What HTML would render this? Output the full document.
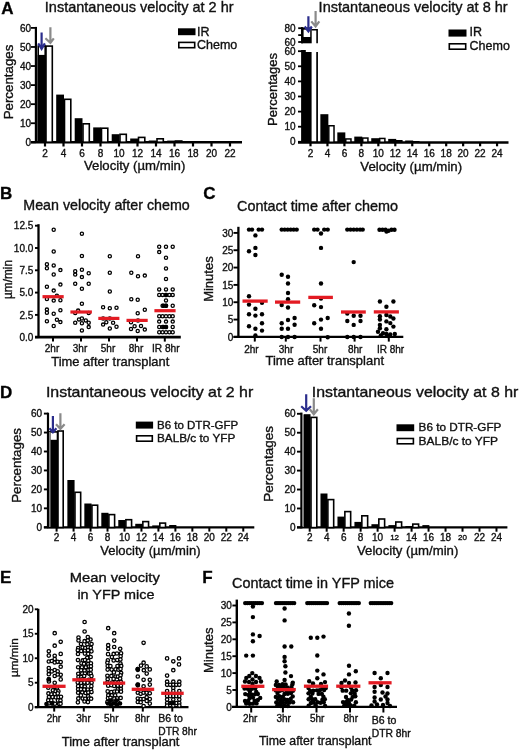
<!DOCTYPE html>
<html><head><meta charset="utf-8"><style>
html,body{margin:0;padding:0;background:#fff;}
svg{display:block;font-family:"Liberation Sans",sans-serif;will-change:transform;}
text{stroke:#111;stroke-width:0.35px;}
</style></head><body>
<svg width="520" height="750" viewBox="0 0 520 750">
<rect width="520" height="750" fill="#fff"/>
<text x="1.3" y="13.7" font-size="17" font-weight="bold" fill="#000">A</text>
<text x="0.1" y="198.8" font-size="17" font-weight="bold" fill="#000">B</text>
<text x="203.2" y="199.3" font-size="17" font-weight="bold" fill="#000">C</text>
<text x="0.1" y="397.8" font-size="17" font-weight="bold" fill="#000">D</text>
<text x="0.1" y="583.1" font-size="17" font-weight="bold" fill="#000">E</text>
<text x="202.3" y="582.9" font-size="17" font-weight="bold" fill="#000">F</text>
<line x1="35.90" y1="26.90" x2="35.90" y2="143.00" stroke="#000" stroke-width="2.2" stroke-linecap="butt"/>
<line x1="31.00" y1="27.90" x2="35.90" y2="27.90" stroke="#000" stroke-width="1.8" stroke-linecap="butt"/>
<text x="31.0" y="31.5" font-size="10" text-anchor="end" fill="#111">60</text>
<line x1="31.00" y1="46.97" x2="35.90" y2="46.97" stroke="#000" stroke-width="1.8" stroke-linecap="butt"/>
<text x="31.0" y="50.56666666666667" font-size="10" text-anchor="end" fill="#111">50</text>
<line x1="31.00" y1="66.03" x2="35.90" y2="66.03" stroke="#000" stroke-width="1.8" stroke-linecap="butt"/>
<text x="31.0" y="69.63333333333333" font-size="10" text-anchor="end" fill="#111">40</text>
<line x1="31.00" y1="85.10" x2="35.90" y2="85.10" stroke="#000" stroke-width="1.8" stroke-linecap="butt"/>
<text x="31.0" y="88.7" font-size="10" text-anchor="end" fill="#111">30</text>
<line x1="31.00" y1="104.17" x2="35.90" y2="104.17" stroke="#000" stroke-width="1.8" stroke-linecap="butt"/>
<text x="31.0" y="107.76666666666665" font-size="10" text-anchor="end" fill="#111">20</text>
<line x1="31.00" y1="123.23" x2="35.90" y2="123.23" stroke="#000" stroke-width="1.8" stroke-linecap="butt"/>
<text x="31.0" y="126.83333333333331" font-size="10" text-anchor="end" fill="#111">10</text>
<line x1="31.00" y1="142.30" x2="35.90" y2="142.30" stroke="#000" stroke-width="1.8" stroke-linecap="butt"/>
<text x="31.0" y="145.9" font-size="10" text-anchor="end" fill="#111">0</text>
<line x1="31.00" y1="142.30" x2="242.00" y2="142.30" stroke="#000" stroke-width="2.6" stroke-linecap="butt"/>
<line x1="45.00" y1="142.00" x2="45.00" y2="146.50" stroke="#000" stroke-width="2.2" stroke-linecap="butt"/>
<text x="45.0" y="157.4" font-size="10" text-anchor="middle" fill="#111">2</text>
<line x1="63.50" y1="142.00" x2="63.50" y2="146.50" stroke="#000" stroke-width="2.2" stroke-linecap="butt"/>
<text x="63.5" y="157.4" font-size="10" text-anchor="middle" fill="#111">4</text>
<line x1="82.00" y1="142.00" x2="82.00" y2="146.50" stroke="#000" stroke-width="2.2" stroke-linecap="butt"/>
<text x="82.0" y="157.4" font-size="10" text-anchor="middle" fill="#111">6</text>
<line x1="100.50" y1="142.00" x2="100.50" y2="146.50" stroke="#000" stroke-width="2.2" stroke-linecap="butt"/>
<text x="100.5" y="157.4" font-size="10" text-anchor="middle" fill="#111">8</text>
<line x1="119.00" y1="142.00" x2="119.00" y2="146.50" stroke="#000" stroke-width="2.2" stroke-linecap="butt"/>
<text x="119.0" y="157.4" font-size="10" text-anchor="middle" fill="#111">10</text>
<line x1="137.50" y1="142.00" x2="137.50" y2="146.50" stroke="#000" stroke-width="2.2" stroke-linecap="butt"/>
<text x="137.5" y="157.4" font-size="10" text-anchor="middle" fill="#111">12</text>
<line x1="156.00" y1="142.00" x2="156.00" y2="146.50" stroke="#000" stroke-width="2.2" stroke-linecap="butt"/>
<text x="156.0" y="157.4" font-size="10" text-anchor="middle" fill="#111">14</text>
<line x1="174.50" y1="142.00" x2="174.50" y2="146.50" stroke="#000" stroke-width="2.2" stroke-linecap="butt"/>
<text x="174.5" y="157.4" font-size="10" text-anchor="middle" fill="#111">16</text>
<line x1="193.00" y1="142.00" x2="193.00" y2="146.50" stroke="#000" stroke-width="2.2" stroke-linecap="butt"/>
<text x="193.0" y="157.4" font-size="10" text-anchor="middle" fill="#111">18</text>
<line x1="211.50" y1="142.00" x2="211.50" y2="146.50" stroke="#000" stroke-width="2.2" stroke-linecap="butt"/>
<text x="211.5" y="157.4" font-size="10" text-anchor="middle" fill="#111">20</text>
<line x1="230.00" y1="142.00" x2="230.00" y2="146.50" stroke="#000" stroke-width="2.2" stroke-linecap="butt"/>
<text x="230.0" y="157.4" font-size="10" text-anchor="middle" fill="#111">22</text>
<rect x="38.20" y="46.10" width="7.00" height="96.10" fill="#fff" stroke="#000" stroke-width="1.6"/>
<rect x="37.70" y="54.90" width="7.80" height="87.10" fill="#000"/>
<rect x="46.00" y="46.10" width="6.30" height="96.10" fill="#fff" stroke="#000" stroke-width="1.6"/>
<rect x="56.20" y="94.60" width="7.80" height="47.40" fill="#000"/>
<rect x="64.50" y="99.30" width="6.30" height="42.90" fill="#fff" stroke="#000" stroke-width="1.6"/>
<rect x="74.70" y="118.20" width="7.80" height="23.80" fill="#000"/>
<rect x="83.00" y="123.80" width="6.30" height="18.40" fill="#fff" stroke="#000" stroke-width="1.6"/>
<rect x="93.20" y="127.40" width="7.80" height="14.60" fill="#000"/>
<rect x="101.50" y="128.20" width="6.30" height="14.00" fill="#fff" stroke="#000" stroke-width="1.6"/>
<rect x="111.70" y="134.20" width="7.80" height="7.80" fill="#000"/>
<rect x="120.00" y="134.30" width="6.30" height="7.90" fill="#fff" stroke="#000" stroke-width="1.6"/>
<rect x="130.20" y="138.50" width="7.80" height="3.50" fill="#000"/>
<rect x="138.50" y="137.40" width="6.30" height="4.80" fill="#fff" stroke="#000" stroke-width="1.6"/>
<rect x="148.70" y="140.50" width="7.80" height="1.50" fill="#000"/>
<rect x="157.00" y="138.80" width="6.30" height="3.40" fill="#fff" stroke="#000" stroke-width="1.6"/>
<rect x="167.20" y="140.60" width="7.80" height="1.40" fill="#000"/>
<rect x="175.50" y="141.00" width="6.30" height="1.20" fill="#fff" stroke="#000" stroke-width="1.6"/>
<path d="M41.6 32.5 L41.6 48.3 M38.2 43.4 L41.6 48.9 L44.9 43.4" fill="none" stroke="#2b2d8c" stroke-width="2.2" stroke-linejoin="miter"/>
<path d="M50.4 27.2 L50.4 42.3 M45.4 38.3 L50.4 42.9 L53.8 38.3" fill="none" stroke="#8a8a8a" stroke-width="2.2" stroke-linejoin="miter"/>
<text x="44.8" y="11.6" font-size="14.4" textLength="188.8" lengthAdjust="spacingAndGlyphs" fill="#111">Instantaneous velocity at 2 hr</text>
<rect x="178.00" y="28.30" width="17.50" height="6.90" fill="#000"/>
<rect x="178.80" y="42.40" width="15.90" height="5.30" fill="#fff" stroke="#000" stroke-width="1.6"/>
<text x="197.0" y="35.6" font-size="12.5" fill="#111">IR</text>
<text x="197.0" y="49.0" font-size="12.5" fill="#111">Chemo</text>
<text transform="translate(13.1 82.0) rotate(-90)" x="0" y="0" font-size="12.3" text-anchor="middle" textLength="74.7" lengthAdjust="spacingAndGlyphs" fill="#111">Percentages</text>
<text x="84.0" y="170" font-size="13" textLength="101.3" lengthAdjust="spacingAndGlyphs" fill="#111">Velocity (µm/min)</text>
<line x1="302.10" y1="27.20" x2="302.10" y2="43.30" stroke="#000" stroke-width="2.0" stroke-linecap="butt"/>
<line x1="298.20" y1="28.20" x2="302.10" y2="28.20" stroke="#000" stroke-width="1.8" stroke-linecap="butt"/>
<text x="295.6" y="31.8" font-size="10" text-anchor="end" fill="#111">80</text>
<line x1="298.20" y1="35.10" x2="302.10" y2="35.10" stroke="#000" stroke-width="1.8" stroke-linecap="butt"/>
<line x1="298.20" y1="42.00" x2="302.10" y2="42.00" stroke="#000" stroke-width="1.8" stroke-linecap="butt"/>
<text x="295.6" y="45.6" font-size="10" text-anchor="end" fill="#111">60</text>
<rect x="301.20" y="27.40" width="10.50" height="15.90" fill="#000"/>
<rect x="303.60" y="29.70" width="6.60" height="7.30" fill="#fff"/>
<path d="M311.7 29.7 L317.1 29.7 L317.1 43.3" fill="none" stroke="#000" stroke-width="1.6"/>
<line x1="302.10" y1="50.00" x2="302.10" y2="142.00" stroke="#000" stroke-width="2.0" stroke-linecap="butt"/>
<line x1="298.00" y1="51.20" x2="302.10" y2="51.20" stroke="#000" stroke-width="1.8" stroke-linecap="butt"/>
<text x="295.6" y="54.800000000000004" font-size="10" text-anchor="end" fill="#111">60</text>
<line x1="298.00" y1="66.30" x2="302.10" y2="66.30" stroke="#000" stroke-width="1.8" stroke-linecap="butt"/>
<text x="295.6" y="69.9" font-size="10" text-anchor="end" fill="#111">50</text>
<line x1="298.00" y1="81.40" x2="302.10" y2="81.40" stroke="#000" stroke-width="1.8" stroke-linecap="butt"/>
<text x="295.6" y="85.0" font-size="10" text-anchor="end" fill="#111">40</text>
<line x1="298.00" y1="96.50" x2="302.10" y2="96.50" stroke="#000" stroke-width="1.8" stroke-linecap="butt"/>
<text x="295.6" y="100.1" font-size="10" text-anchor="end" fill="#111">30</text>
<line x1="298.00" y1="111.60" x2="302.10" y2="111.60" stroke="#000" stroke-width="1.8" stroke-linecap="butt"/>
<text x="295.6" y="115.2" font-size="10" text-anchor="end" fill="#111">20</text>
<line x1="298.00" y1="126.70" x2="302.10" y2="126.70" stroke="#000" stroke-width="1.8" stroke-linecap="butt"/>
<text x="295.6" y="130.3" font-size="10" text-anchor="end" fill="#111">10</text>
<line x1="298.00" y1="141.80" x2="302.10" y2="141.80" stroke="#000" stroke-width="1.8" stroke-linecap="butt"/>
<text x="295.6" y="145.4" font-size="10" text-anchor="end" fill="#111">0</text>
<path d="M302.1 50 L305.8 50 L305.8 51.9 L311.6 51.9 L311.6 142 L302.1 142 Z" fill="#000"/>
<line x1="317.10" y1="51.90" x2="317.10" y2="142.00" stroke="#000" stroke-width="1.7" stroke-linecap="butt"/>
<line x1="298.00" y1="142.40" x2="508.50" y2="142.40" stroke="#000" stroke-width="2.5" stroke-linecap="butt"/>
<line x1="310.50" y1="142.00" x2="310.50" y2="146.30" stroke="#000" stroke-width="2.2" stroke-linecap="butt"/>
<text x="310.5" y="156.7" font-size="10" text-anchor="middle" fill="#111">2</text>
<line x1="327.46" y1="142.00" x2="327.46" y2="146.30" stroke="#000" stroke-width="2.2" stroke-linecap="butt"/>
<text x="327.46" y="156.7" font-size="10" text-anchor="middle" fill="#111">4</text>
<line x1="344.42" y1="142.00" x2="344.42" y2="146.30" stroke="#000" stroke-width="2.2" stroke-linecap="butt"/>
<text x="344.42" y="156.7" font-size="10" text-anchor="middle" fill="#111">6</text>
<line x1="361.38" y1="142.00" x2="361.38" y2="146.30" stroke="#000" stroke-width="2.2" stroke-linecap="butt"/>
<text x="361.38" y="156.7" font-size="10" text-anchor="middle" fill="#111">8</text>
<line x1="378.34" y1="142.00" x2="378.34" y2="146.30" stroke="#000" stroke-width="2.2" stroke-linecap="butt"/>
<text x="378.34000000000003" y="156.7" font-size="10" text-anchor="middle" fill="#111">10</text>
<line x1="395.30" y1="142.00" x2="395.30" y2="146.30" stroke="#000" stroke-width="2.2" stroke-linecap="butt"/>
<text x="395.3" y="156.7" font-size="10" text-anchor="middle" fill="#111">12</text>
<line x1="412.26" y1="142.00" x2="412.26" y2="146.30" stroke="#000" stroke-width="2.2" stroke-linecap="butt"/>
<text x="412.26" y="156.7" font-size="10" text-anchor="middle" fill="#111">14</text>
<line x1="429.22" y1="142.00" x2="429.22" y2="146.30" stroke="#000" stroke-width="2.2" stroke-linecap="butt"/>
<text x="429.22" y="156.7" font-size="10" text-anchor="middle" fill="#111">16</text>
<line x1="446.18" y1="142.00" x2="446.18" y2="146.30" stroke="#000" stroke-width="2.2" stroke-linecap="butt"/>
<text x="446.18" y="156.7" font-size="10" text-anchor="middle" fill="#111">18</text>
<line x1="463.14" y1="142.00" x2="463.14" y2="146.30" stroke="#000" stroke-width="2.2" stroke-linecap="butt"/>
<text x="463.14" y="156.7" font-size="10" text-anchor="middle" fill="#111">20</text>
<line x1="480.10" y1="142.00" x2="480.10" y2="146.30" stroke="#000" stroke-width="2.2" stroke-linecap="butt"/>
<text x="480.1" y="156.7" font-size="10" text-anchor="middle" fill="#111">22</text>
<line x1="497.06" y1="142.00" x2="497.06" y2="146.30" stroke="#000" stroke-width="2.2" stroke-linecap="butt"/>
<text x="497.06" y="156.7" font-size="10" text-anchor="middle" fill="#111">24</text>
<rect x="320.36" y="114.20" width="8.00" height="27.80" fill="#000"/>
<rect x="328.81" y="125.75" width="5.20" height="16.50" fill="#fff" stroke="#000" stroke-width="1.5"/>
<rect x="337.32" y="132.40" width="8.00" height="9.60" fill="#000"/>
<rect x="345.77" y="138.95" width="5.20" height="3.30" fill="#fff" stroke="#000" stroke-width="1.5"/>
<rect x="354.28" y="136.60" width="8.00" height="5.40" fill="#000"/>
<rect x="362.73" y="138.05" width="5.20" height="4.20" fill="#fff" stroke="#000" stroke-width="1.5"/>
<rect x="371.24" y="138.20" width="8.00" height="3.80" fill="#000"/>
<rect x="379.69" y="138.45" width="5.20" height="3.80" fill="#fff" stroke="#000" stroke-width="1.5"/>
<rect x="388.20" y="138.90" width="8.00" height="3.10" fill="#000"/>
<rect x="396.65" y="140.75" width="5.20" height="1.50" fill="#fff" stroke="#000" stroke-width="1.5"/>
<rect x="405.16" y="140.50" width="8.00" height="1.50" fill="#000"/>
<rect x="413.61" y="141.75" width="5.20" height="0.50" fill="#fff" stroke="#000" stroke-width="1.5"/>
<path d="M308.4 16.2 L308.4 30.799999999999997 M304.7 26.5 L308.4 31.4 L311.8 26.5" fill="none" stroke="#2b2d8c" stroke-width="2.2" stroke-linejoin="miter"/>
<path d="M315.6 11.0 L315.6 25.9 M311.3 21.4 L315.6 26.5 L319.3 21.4" fill="none" stroke="#8a8a8a" stroke-width="2.2" stroke-linejoin="miter"/>
<text x="318.6" y="12.4" font-size="14.4" textLength="189.1" lengthAdjust="spacingAndGlyphs" fill="#111">Instantaneous velocity at 8 hr</text>
<rect x="448.50" y="29.50" width="18.00" height="7.10" fill="#000"/>
<rect x="449.30" y="43.80" width="16.40" height="5.40" fill="#fff" stroke="#000" stroke-width="1.6"/>
<text x="469.6" y="36.2" font-size="12.5" fill="#111">IR</text>
<text x="469.6" y="50.0" font-size="12.5" fill="#111">Chemo</text>
<text transform="translate(276.6 89.5) rotate(-90)" x="0" y="0" font-size="12.3" text-anchor="middle" textLength="73" lengthAdjust="spacingAndGlyphs" fill="#111">Percentages</text>
<text x="360.3" y="170.5" font-size="13" textLength="101.8" lengthAdjust="spacingAndGlyphs" fill="#111">Velocity (µm/min)</text>
<line x1="38.50" y1="224.20" x2="38.50" y2="338.00" stroke="#000" stroke-width="2.3" stroke-linecap="butt"/>
<line x1="35.00" y1="225.70" x2="38.50" y2="225.70" stroke="#000" stroke-width="1.9" stroke-linecap="butt"/>
<text x="33.3" y="229.29999999999998" font-size="10" text-anchor="end" fill="#111">12.5</text>
<line x1="35.00" y1="248.00" x2="38.50" y2="248.00" stroke="#000" stroke-width="1.9" stroke-linecap="butt"/>
<text x="33.3" y="251.6" font-size="10" text-anchor="end" fill="#111">10.0</text>
<line x1="35.00" y1="270.30" x2="38.50" y2="270.30" stroke="#000" stroke-width="1.9" stroke-linecap="butt"/>
<text x="33.3" y="273.90000000000003" font-size="10" text-anchor="end" fill="#111">7.5</text>
<line x1="35.00" y1="292.60" x2="38.50" y2="292.60" stroke="#000" stroke-width="1.9" stroke-linecap="butt"/>
<text x="33.3" y="296.20000000000005" font-size="10" text-anchor="end" fill="#111">5.0</text>
<line x1="35.00" y1="314.90" x2="38.50" y2="314.90" stroke="#000" stroke-width="1.9" stroke-linecap="butt"/>
<text x="33.3" y="318.5" font-size="10" text-anchor="end" fill="#111">2.5</text>
<line x1="35.00" y1="337.20" x2="38.50" y2="337.20" stroke="#000" stroke-width="1.9" stroke-linecap="butt"/>
<text x="33.3" y="340.8" font-size="10" text-anchor="end" fill="#111">0.0</text>
<line x1="35.00" y1="337.10" x2="180.80" y2="337.10" stroke="#000" stroke-width="2.6" stroke-linecap="butt"/>
<line x1="53.00" y1="337.00" x2="53.00" y2="341.60" stroke="#000" stroke-width="2" stroke-linecap="butt"/>
<text x="52.0" y="351.6" font-size="10" text-anchor="middle" fill="#111">2hr</text>
<line x1="81.00" y1="337.00" x2="81.00" y2="341.60" stroke="#000" stroke-width="2" stroke-linecap="butt"/>
<text x="80.0" y="351.6" font-size="10" text-anchor="middle" fill="#111">3hr</text>
<line x1="109.00" y1="337.00" x2="109.00" y2="341.60" stroke="#000" stroke-width="2" stroke-linecap="butt"/>
<text x="108.0" y="351.6" font-size="10" text-anchor="middle" fill="#111">5hr</text>
<line x1="137.00" y1="337.00" x2="137.00" y2="341.60" stroke="#000" stroke-width="2" stroke-linecap="butt"/>
<text x="136.0" y="351.6" font-size="10" text-anchor="middle" fill="#111">8hr</text>
<line x1="164.80" y1="337.00" x2="164.80" y2="341.60" stroke="#000" stroke-width="2" stroke-linecap="butt"/>
<text x="165.8" y="351.6" font-size="10" text-anchor="middle" textLength="27.6" lengthAdjust="spacingAndGlyphs" fill="#111">IR 8hr</text>
<text x="51.3" y="365.7" font-size="12.6" textLength="118" lengthAdjust="spacingAndGlyphs" fill="#111">Time after transplant</text>
<text x="23.3" y="210.0" font-size="14.2" textLength="166.4" lengthAdjust="spacingAndGlyphs" fill="#111">Mean velocity after chemo</text>
<text transform="translate(11.5 279.5) rotate(-90)" x="0" y="0" font-size="12" text-anchor="middle" textLength="39" lengthAdjust="spacingAndGlyphs" fill="#111">µm/min</text>
<circle cx="53.70" cy="229.80" r="1.6" fill="#fff" stroke="#000" stroke-width="1.3"/>
<circle cx="53.70" cy="251.50" r="1.6" fill="#fff" stroke="#000" stroke-width="1.3"/>
<circle cx="46.90" cy="264.20" r="1.6" fill="#fff" stroke="#000" stroke-width="1.3"/>
<circle cx="46.90" cy="268.20" r="1.6" fill="#fff" stroke="#000" stroke-width="1.3"/>
<circle cx="53.70" cy="265.40" r="1.6" fill="#fff" stroke="#000" stroke-width="1.3"/>
<circle cx="60.40" cy="270.10" r="1.6" fill="#fff" stroke="#000" stroke-width="1.3"/>
<circle cx="53.70" cy="274.50" r="1.6" fill="#fff" stroke="#000" stroke-width="1.3"/>
<circle cx="46.90" cy="286.70" r="1.6" fill="#fff" stroke="#000" stroke-width="1.3"/>
<circle cx="60.40" cy="284.60" r="1.6" fill="#fff" stroke="#000" stroke-width="1.3"/>
<circle cx="53.70" cy="290.60" r="1.6" fill="#fff" stroke="#000" stroke-width="1.3"/>
<circle cx="46.90" cy="299.00" r="1.6" fill="#fff" stroke="#000" stroke-width="1.3"/>
<circle cx="53.70" cy="300.60" r="1.6" fill="#fff" stroke="#000" stroke-width="1.3"/>
<circle cx="60.40" cy="300.20" r="1.6" fill="#fff" stroke="#000" stroke-width="1.3"/>
<circle cx="56.90" cy="295.80" r="1.6" fill="#fff" stroke="#000" stroke-width="1.3"/>
<circle cx="46.90" cy="309.60" r="1.6" fill="#fff" stroke="#000" stroke-width="1.3"/>
<circle cx="46.90" cy="312.70" r="1.6" fill="#fff" stroke="#000" stroke-width="1.3"/>
<circle cx="53.70" cy="313.70" r="1.6" fill="#fff" stroke="#000" stroke-width="1.3"/>
<circle cx="60.40" cy="310.20" r="1.6" fill="#fff" stroke="#000" stroke-width="1.3"/>
<circle cx="46.90" cy="321.30" r="1.6" fill="#fff" stroke="#000" stroke-width="1.3"/>
<circle cx="56.90" cy="319.80" r="1.6" fill="#fff" stroke="#000" stroke-width="1.3"/>
<circle cx="60.40" cy="322.10" r="1.6" fill="#fff" stroke="#000" stroke-width="1.3"/>
<circle cx="53.70" cy="326.00" r="1.6" fill="#fff" stroke="#000" stroke-width="1.3"/>
<circle cx="81.90" cy="233.70" r="1.6" fill="#fff" stroke="#000" stroke-width="1.3"/>
<circle cx="81.90" cy="256.00" r="1.6" fill="#fff" stroke="#000" stroke-width="1.3"/>
<circle cx="75.20" cy="271.30" r="1.6" fill="#fff" stroke="#000" stroke-width="1.3"/>
<circle cx="75.20" cy="274.60" r="1.6" fill="#fff" stroke="#000" stroke-width="1.3"/>
<circle cx="81.90" cy="269.80" r="1.6" fill="#fff" stroke="#000" stroke-width="1.3"/>
<circle cx="88.70" cy="273.30" r="1.6" fill="#fff" stroke="#000" stroke-width="1.3"/>
<circle cx="81.90" cy="277.10" r="1.6" fill="#fff" stroke="#000" stroke-width="1.3"/>
<circle cx="75.20" cy="283.70" r="1.6" fill="#fff" stroke="#000" stroke-width="1.3"/>
<circle cx="88.70" cy="283.70" r="1.6" fill="#fff" stroke="#000" stroke-width="1.3"/>
<circle cx="81.90" cy="288.70" r="1.6" fill="#fff" stroke="#000" stroke-width="1.3"/>
<circle cx="81.90" cy="303.80" r="1.6" fill="#fff" stroke="#000" stroke-width="1.3"/>
<circle cx="78.10" cy="310.60" r="1.6" fill="#fff" stroke="#000" stroke-width="1.3"/>
<circle cx="75.20" cy="313.00" r="1.6" fill="#fff" stroke="#000" stroke-width="1.3"/>
<circle cx="88.70" cy="313.00" r="1.6" fill="#fff" stroke="#000" stroke-width="1.3"/>
<circle cx="75.20" cy="322.70" r="1.6" fill="#fff" stroke="#000" stroke-width="1.3"/>
<circle cx="79.00" cy="319.40" r="1.6" fill="#fff" stroke="#000" stroke-width="1.3"/>
<circle cx="81.90" cy="318.50" r="1.6" fill="#fff" stroke="#000" stroke-width="1.3"/>
<circle cx="85.80" cy="320.40" r="1.6" fill="#fff" stroke="#000" stroke-width="1.3"/>
<circle cx="88.70" cy="322.70" r="1.6" fill="#fff" stroke="#000" stroke-width="1.3"/>
<circle cx="81.90" cy="323.30" r="1.6" fill="#fff" stroke="#000" stroke-width="1.3"/>
<circle cx="88.70" cy="327.10" r="1.6" fill="#fff" stroke="#000" stroke-width="1.3"/>
<circle cx="81.90" cy="330.40" r="1.6" fill="#fff" stroke="#000" stroke-width="1.3"/>
<circle cx="109.80" cy="256.30" r="1.6" fill="#fff" stroke="#000" stroke-width="1.3"/>
<circle cx="109.80" cy="272.70" r="1.6" fill="#fff" stroke="#000" stroke-width="1.3"/>
<circle cx="109.80" cy="291.50" r="1.6" fill="#fff" stroke="#000" stroke-width="1.3"/>
<circle cx="103.10" cy="307.30" r="1.6" fill="#fff" stroke="#000" stroke-width="1.3"/>
<circle cx="109.80" cy="308.30" r="1.6" fill="#fff" stroke="#000" stroke-width="1.3"/>
<circle cx="116.50" cy="307.70" r="1.6" fill="#fff" stroke="#000" stroke-width="1.3"/>
<circle cx="103.10" cy="318.50" r="1.6" fill="#fff" stroke="#000" stroke-width="1.3"/>
<circle cx="109.80" cy="318.50" r="1.6" fill="#fff" stroke="#000" stroke-width="1.3"/>
<circle cx="103.10" cy="324.60" r="1.6" fill="#fff" stroke="#000" stroke-width="1.3"/>
<circle cx="106.30" cy="322.30" r="1.6" fill="#fff" stroke="#000" stroke-width="1.3"/>
<circle cx="113.10" cy="322.70" r="1.6" fill="#fff" stroke="#000" stroke-width="1.3"/>
<circle cx="116.50" cy="326.70" r="1.6" fill="#fff" stroke="#000" stroke-width="1.3"/>
<circle cx="109.80" cy="328.50" r="1.6" fill="#fff" stroke="#000" stroke-width="1.3"/>
<circle cx="138.00" cy="256.30" r="1.6" fill="#fff" stroke="#000" stroke-width="1.3"/>
<circle cx="131.30" cy="272.70" r="1.6" fill="#fff" stroke="#000" stroke-width="1.3"/>
<circle cx="138.00" cy="276.20" r="1.6" fill="#fff" stroke="#000" stroke-width="1.3"/>
<circle cx="144.80" cy="275.60" r="1.6" fill="#fff" stroke="#000" stroke-width="1.3"/>
<circle cx="131.30" cy="299.20" r="1.6" fill="#fff" stroke="#000" stroke-width="1.3"/>
<circle cx="137.70" cy="299.80" r="1.6" fill="#fff" stroke="#000" stroke-width="1.3"/>
<circle cx="144.80" cy="309.70" r="1.6" fill="#fff" stroke="#000" stroke-width="1.3"/>
<circle cx="137.70" cy="313.30" r="1.6" fill="#fff" stroke="#000" stroke-width="1.3"/>
<circle cx="131.00" cy="322.30" r="1.6" fill="#fff" stroke="#000" stroke-width="1.3"/>
<circle cx="134.60" cy="326.20" r="1.6" fill="#fff" stroke="#000" stroke-width="1.3"/>
<circle cx="141.00" cy="326.00" r="1.6" fill="#fff" stroke="#000" stroke-width="1.3"/>
<circle cx="131.00" cy="329.00" r="1.6" fill="#fff" stroke="#000" stroke-width="1.3"/>
<circle cx="137.70" cy="331.00" r="1.6" fill="#fff" stroke="#000" stroke-width="1.3"/>
<circle cx="144.80" cy="329.60" r="1.6" fill="#fff" stroke="#000" stroke-width="1.3"/>
<circle cx="138.00" cy="320.40" r="1.6" fill="#fff" stroke="#000" stroke-width="1.3"/>
<circle cx="159.20" cy="246.70" r="1.6" fill="#fff" stroke="#000" stroke-width="1.3"/>
<circle cx="166.00" cy="246.70" r="1.6" fill="#fff" stroke="#000" stroke-width="1.3"/>
<circle cx="172.70" cy="246.70" r="1.6" fill="#fff" stroke="#000" stroke-width="1.3"/>
<circle cx="159.20" cy="252.10" r="1.6" fill="#fff" stroke="#000" stroke-width="1.3"/>
<circle cx="166.00" cy="257.70" r="1.6" fill="#fff" stroke="#000" stroke-width="1.3"/>
<circle cx="166.00" cy="268.50" r="1.6" fill="#fff" stroke="#000" stroke-width="1.3"/>
<circle cx="166.00" cy="279.00" r="1.6" fill="#fff" stroke="#000" stroke-width="1.3"/>
<circle cx="159.20" cy="289.40" r="1.6" fill="#fff" stroke="#000" stroke-width="1.3"/>
<circle cx="166.00" cy="289.40" r="1.6" fill="#fff" stroke="#000" stroke-width="1.3"/>
<circle cx="172.70" cy="289.40" r="1.6" fill="#fff" stroke="#000" stroke-width="1.3"/>
<circle cx="159.20" cy="294.90" r="1.6" fill="#fff" stroke="#000" stroke-width="1.3"/>
<circle cx="162.60" cy="294.90" r="1.6" fill="#fff" stroke="#000" stroke-width="1.3"/>
<circle cx="166.00" cy="294.90" r="1.6" fill="#fff" stroke="#000" stroke-width="1.3"/>
<circle cx="169.40" cy="294.90" r="1.6" fill="#fff" stroke="#000" stroke-width="1.3"/>
<circle cx="172.70" cy="294.90" r="1.6" fill="#fff" stroke="#000" stroke-width="1.3"/>
<circle cx="166.00" cy="300.40" r="1.6" fill="#fff" stroke="#000" stroke-width="1.3"/>
<circle cx="162.60" cy="305.70" r="1.6" fill="#fff" stroke="#000" stroke-width="1.3"/>
<circle cx="166.00" cy="305.70" r="1.6" fill="#fff" stroke="#000" stroke-width="1.3"/>
<circle cx="172.70" cy="305.70" r="1.6" fill="#fff" stroke="#000" stroke-width="1.3"/>
<circle cx="159.20" cy="316.20" r="1.6" fill="#fff" stroke="#000" stroke-width="1.3"/>
<circle cx="162.60" cy="316.20" r="1.6" fill="#fff" stroke="#000" stroke-width="1.3"/>
<circle cx="166.00" cy="316.20" r="1.6" fill="#fff" stroke="#000" stroke-width="1.3"/>
<circle cx="169.40" cy="316.20" r="1.6" fill="#fff" stroke="#000" stroke-width="1.3"/>
<circle cx="172.70" cy="316.20" r="1.6" fill="#fff" stroke="#000" stroke-width="1.3"/>
<circle cx="159.20" cy="321.60" r="1.6" fill="#fff" stroke="#000" stroke-width="1.3"/>
<circle cx="166.00" cy="321.60" r="1.6" fill="#fff" stroke="#000" stroke-width="1.3"/>
<circle cx="172.70" cy="321.60" r="1.6" fill="#fff" stroke="#000" stroke-width="1.3"/>
<circle cx="159.20" cy="327.00" r="1.6" fill="#fff" stroke="#000" stroke-width="1.3"/>
<circle cx="162.60" cy="327.00" r="1.6" fill="#fff" stroke="#000" stroke-width="1.3"/>
<circle cx="166.00" cy="327.00" r="1.6" fill="#fff" stroke="#000" stroke-width="1.3"/>
<circle cx="172.70" cy="327.00" r="1.6" fill="#fff" stroke="#000" stroke-width="1.3"/>
<circle cx="159.20" cy="332.20" r="1.6" fill="#fff" stroke="#000" stroke-width="1.3"/>
<circle cx="162.60" cy="332.20" r="1.6" fill="#fff" stroke="#000" stroke-width="1.3"/>
<circle cx="166.00" cy="332.20" r="1.6" fill="#fff" stroke="#000" stroke-width="1.3"/>
<circle cx="169.40" cy="332.20" r="1.6" fill="#fff" stroke="#000" stroke-width="1.3"/>
<circle cx="172.70" cy="332.20" r="1.6" fill="#fff" stroke="#000" stroke-width="1.3"/>
<circle cx="166.00" cy="294.90" r="1.6" fill="#000" stroke="#000" stroke-width="1.3"/>
<circle cx="163.50" cy="305.70" r="1.6" fill="#000" stroke="#000" stroke-width="1.3"/>
<circle cx="166.00" cy="305.70" r="1.6" fill="#000" stroke="#000" stroke-width="1.3"/>
<circle cx="163.50" cy="327.00" r="1.6" fill="#000" stroke="#000" stroke-width="1.3"/>
<circle cx="166.00" cy="327.00" r="1.6" fill="#000" stroke="#000" stroke-width="1.3"/>
<line x1="42.50" y1="296.70" x2="63.70" y2="296.70" stroke="#e31b23" stroke-width="3.2" stroke-linecap="butt"/>
<line x1="70.40" y1="312.00" x2="91.90" y2="312.00" stroke="#e31b23" stroke-width="3.2" stroke-linecap="butt"/>
<line x1="98.30" y1="318.40" x2="119.40" y2="318.40" stroke="#e31b23" stroke-width="3.2" stroke-linecap="butt"/>
<line x1="126.50" y1="320.40" x2="147.70" y2="320.40" stroke="#e31b23" stroke-width="3.2" stroke-linecap="butt"/>
<line x1="154.40" y1="310.70" x2="175.60" y2="310.70" stroke="#e31b23" stroke-width="3.2" stroke-linecap="butt"/>
<line x1="238.40" y1="226.80" x2="238.40" y2="338.00" stroke="#000" stroke-width="2.3" stroke-linecap="butt"/>
<line x1="233.50" y1="232.90" x2="238.40" y2="232.90" stroke="#000" stroke-width="1.9" stroke-linecap="butt"/>
<text x="233.4" y="236.5" font-size="10" text-anchor="end" fill="#111">30</text>
<line x1="233.50" y1="250.23" x2="238.40" y2="250.23" stroke="#000" stroke-width="1.9" stroke-linecap="butt"/>
<text x="233.4" y="253.83333333333334" font-size="10" text-anchor="end" fill="#111">25</text>
<line x1="233.50" y1="267.57" x2="238.40" y2="267.57" stroke="#000" stroke-width="1.9" stroke-linecap="butt"/>
<text x="233.4" y="271.1666666666667" font-size="10" text-anchor="end" fill="#111">20</text>
<line x1="233.50" y1="284.90" x2="238.40" y2="284.90" stroke="#000" stroke-width="1.9" stroke-linecap="butt"/>
<text x="233.4" y="288.5" font-size="10" text-anchor="end" fill="#111">15</text>
<line x1="233.50" y1="302.23" x2="238.40" y2="302.23" stroke="#000" stroke-width="1.9" stroke-linecap="butt"/>
<text x="233.4" y="305.83333333333337" font-size="10" text-anchor="end" fill="#111">10</text>
<line x1="233.50" y1="319.57" x2="238.40" y2="319.57" stroke="#000" stroke-width="1.9" stroke-linecap="butt"/>
<text x="233.4" y="323.1666666666667" font-size="10" text-anchor="end" fill="#111">5</text>
<line x1="233.50" y1="336.90" x2="238.40" y2="336.90" stroke="#000" stroke-width="1.9" stroke-linecap="butt"/>
<text x="233.4" y="340.5" font-size="10" text-anchor="end" fill="#111">0</text>
<line x1="233.50" y1="336.90" x2="403.30" y2="336.90" stroke="#000" stroke-width="2.2" stroke-linecap="butt"/>
<line x1="254.80" y1="337.00" x2="254.80" y2="341.60" stroke="#000" stroke-width="2" stroke-linecap="butt"/>
<line x1="285.80" y1="337.00" x2="285.80" y2="341.60" stroke="#000" stroke-width="2" stroke-linecap="butt"/>
<line x1="320.50" y1="337.00" x2="320.50" y2="341.60" stroke="#000" stroke-width="2" stroke-linecap="butt"/>
<line x1="354.60" y1="337.00" x2="354.60" y2="341.60" stroke="#000" stroke-width="2" stroke-linecap="butt"/>
<line x1="388.80" y1="337.00" x2="388.80" y2="341.60" stroke="#000" stroke-width="2" stroke-linecap="butt"/>
<text x="251.4" y="352.8" font-size="10" text-anchor="middle" fill="#111">2hr</text>
<text x="286.0" y="352.8" font-size="10" text-anchor="middle" fill="#111">3hr</text>
<text x="320.0" y="352.8" font-size="10" text-anchor="middle" fill="#111">5hr</text>
<text x="355.2" y="352.8" font-size="10" text-anchor="middle" fill="#111">8hr</text>
<text x="390.5" y="352.8" font-size="10" text-anchor="middle" fill="#111">IR 8hr</text>
<text x="265.5" y="365.3" font-size="12.6" textLength="118.5" lengthAdjust="spacingAndGlyphs" fill="#111">Time after transplant</text>
<text x="237.0" y="211.0" font-size="14.2" textLength="161" lengthAdjust="spacingAndGlyphs" fill="#111">Contact time after chemo</text>
<text transform="translate(213.0 279.1) rotate(-90)" x="0" y="0" font-size="12.5" text-anchor="middle" textLength="45.5" lengthAdjust="spacingAndGlyphs" fill="#111">Minutes</text>
<circle cx="249.00" cy="229.60" r="2.2" fill="#000"/>
<circle cx="252.00" cy="229.60" r="2.2" fill="#000"/>
<circle cx="258.70" cy="229.60" r="2.2" fill="#000"/>
<circle cx="262.00" cy="229.60" r="2.2" fill="#000"/>
<circle cx="255.40" cy="235.40" r="2.2" fill="#000"/>
<circle cx="255.40" cy="247.90" r="2.2" fill="#000"/>
<circle cx="249.00" cy="251.30" r="2.2" fill="#000"/>
<circle cx="255.40" cy="255.00" r="2.2" fill="#000"/>
<circle cx="249.00" cy="296.30" r="2.2" fill="#000"/>
<circle cx="249.00" cy="304.60" r="2.2" fill="#000"/>
<circle cx="262.00" cy="302.70" r="2.2" fill="#000"/>
<circle cx="255.40" cy="308.80" r="2.2" fill="#000"/>
<circle cx="249.00" cy="314.20" r="2.2" fill="#000"/>
<circle cx="255.40" cy="315.60" r="2.2" fill="#000"/>
<circle cx="262.00" cy="314.20" r="2.2" fill="#000"/>
<circle cx="262.00" cy="323.30" r="2.2" fill="#000"/>
<circle cx="249.00" cy="326.30" r="2.2" fill="#000"/>
<circle cx="255.40" cy="328.70" r="2.2" fill="#000"/>
<circle cx="262.00" cy="330.60" r="2.2" fill="#000"/>
<circle cx="255.40" cy="335.40" r="2.2" fill="#000"/>
<circle cx="281.70" cy="229.60" r="2.2" fill="#000"/>
<circle cx="284.70" cy="229.60" r="2.2" fill="#000"/>
<circle cx="287.70" cy="229.60" r="2.2" fill="#000"/>
<circle cx="290.70" cy="229.60" r="2.2" fill="#000"/>
<circle cx="293.70" cy="229.60" r="2.2" fill="#000"/>
<circle cx="296.70" cy="229.60" r="2.2" fill="#000"/>
<circle cx="281.70" cy="274.80" r="2.2" fill="#000"/>
<circle cx="288.00" cy="276.70" r="2.2" fill="#000"/>
<circle cx="288.00" cy="283.50" r="2.2" fill="#000"/>
<circle cx="288.00" cy="293.00" r="2.2" fill="#000"/>
<circle cx="288.00" cy="299.20" r="2.2" fill="#000"/>
<circle cx="281.70" cy="305.00" r="2.2" fill="#000"/>
<circle cx="288.00" cy="307.50" r="2.2" fill="#000"/>
<circle cx="281.70" cy="323.30" r="2.2" fill="#000"/>
<circle cx="288.00" cy="320.00" r="2.2" fill="#000"/>
<circle cx="294.60" cy="318.00" r="2.2" fill="#000"/>
<circle cx="294.60" cy="324.80" r="2.2" fill="#000"/>
<circle cx="281.70" cy="328.70" r="2.2" fill="#000"/>
<circle cx="288.00" cy="328.70" r="2.2" fill="#000"/>
<circle cx="281.70" cy="337.00" r="2.2" fill="#000"/>
<circle cx="288.00" cy="337.00" r="2.2" fill="#000"/>
<circle cx="294.60" cy="337.00" r="2.2" fill="#000"/>
<circle cx="314.20" cy="229.60" r="2.2" fill="#000"/>
<circle cx="317.50" cy="229.60" r="2.2" fill="#000"/>
<circle cx="324.20" cy="229.60" r="2.2" fill="#000"/>
<circle cx="327.70" cy="229.60" r="2.2" fill="#000"/>
<circle cx="321.00" cy="233.50" r="2.2" fill="#000"/>
<circle cx="321.00" cy="247.90" r="2.2" fill="#000"/>
<circle cx="321.00" cy="283.50" r="2.2" fill="#000"/>
<circle cx="321.00" cy="298.50" r="2.2" fill="#000"/>
<circle cx="314.20" cy="305.20" r="2.2" fill="#000"/>
<circle cx="321.00" cy="307.10" r="2.2" fill="#000"/>
<circle cx="327.70" cy="318.00" r="2.2" fill="#000"/>
<circle cx="321.00" cy="319.60" r="2.2" fill="#000"/>
<circle cx="314.20" cy="323.30" r="2.2" fill="#000"/>
<circle cx="321.00" cy="328.70" r="2.2" fill="#000"/>
<circle cx="327.70" cy="337.30" r="2.2" fill="#000"/>
<circle cx="347.30" cy="229.60" r="2.2" fill="#000"/>
<circle cx="350.50" cy="229.60" r="2.2" fill="#000"/>
<circle cx="353.70" cy="229.60" r="2.2" fill="#000"/>
<circle cx="356.90" cy="229.60" r="2.2" fill="#000"/>
<circle cx="360.10" cy="229.60" r="2.2" fill="#000"/>
<circle cx="362.70" cy="229.60" r="2.2" fill="#000"/>
<circle cx="353.70" cy="262.10" r="2.2" fill="#000"/>
<circle cx="353.70" cy="315.80" r="2.2" fill="#000"/>
<circle cx="360.50" cy="315.80" r="2.2" fill="#000"/>
<circle cx="347.30" cy="321.00" r="2.2" fill="#000"/>
<circle cx="360.50" cy="321.00" r="2.2" fill="#000"/>
<circle cx="353.70" cy="324.90" r="2.2" fill="#000"/>
<circle cx="347.30" cy="313.50" r="2.2" fill="#000"/>
<circle cx="347.30" cy="337.00" r="2.2" fill="#000"/>
<circle cx="353.70" cy="337.00" r="2.2" fill="#000"/>
<circle cx="360.50" cy="337.00" r="2.2" fill="#000"/>
<circle cx="379.50" cy="229.80" r="2.2" fill="#000"/>
<circle cx="382.50" cy="229.80" r="2.2" fill="#000"/>
<circle cx="385.50" cy="229.80" r="2.2" fill="#000"/>
<circle cx="388.50" cy="230.80" r="2.2" fill="#000"/>
<circle cx="391.50" cy="229.80" r="2.2" fill="#000"/>
<circle cx="394.50" cy="229.80" r="2.2" fill="#000"/>
<circle cx="386.50" cy="231.50" r="2.2" fill="#000"/>
<circle cx="379.90" cy="301.50" r="2.2" fill="#000"/>
<circle cx="393.40" cy="301.50" r="2.2" fill="#000"/>
<circle cx="386.40" cy="306.70" r="2.2" fill="#000"/>
<circle cx="379.90" cy="316.20" r="2.2" fill="#000"/>
<circle cx="379.90" cy="319.50" r="2.2" fill="#000"/>
<circle cx="386.40" cy="315.00" r="2.2" fill="#000"/>
<circle cx="390.30" cy="316.50" r="2.2" fill="#000"/>
<circle cx="393.40" cy="318.50" r="2.2" fill="#000"/>
<circle cx="386.40" cy="321.40" r="2.2" fill="#000"/>
<circle cx="390.30" cy="323.10" r="2.2" fill="#000"/>
<circle cx="379.90" cy="324.90" r="2.2" fill="#000"/>
<circle cx="393.40" cy="326.60" r="2.2" fill="#000"/>
<circle cx="379.90" cy="328.30" r="2.2" fill="#000"/>
<circle cx="386.40" cy="329.20" r="2.2" fill="#000"/>
<circle cx="378.00" cy="331.80" r="2.2" fill="#000"/>
<circle cx="383.00" cy="333.20" r="2.2" fill="#000"/>
<circle cx="386.40" cy="334.00" r="2.2" fill="#000"/>
<circle cx="390.30" cy="334.50" r="2.2" fill="#000"/>
<circle cx="394.80" cy="334.00" r="2.2" fill="#000"/>
<circle cx="380.80" cy="335.50" r="2.2" fill="#000"/>
<circle cx="388.00" cy="336.00" r="2.2" fill="#000"/>
<line x1="242.50" y1="301.10" x2="267.70" y2="301.10" stroke="#e31b23" stroke-width="3.3" stroke-linecap="butt"/>
<line x1="275.00" y1="302.10" x2="300.20" y2="302.10" stroke="#e31b23" stroke-width="3.3" stroke-linecap="butt"/>
<line x1="308.30" y1="297.40" x2="332.90" y2="297.40" stroke="#e31b23" stroke-width="3.3" stroke-linecap="butt"/>
<line x1="341.00" y1="312.00" x2="365.80" y2="312.00" stroke="#e31b23" stroke-width="3.3" stroke-linecap="butt"/>
<line x1="373.80" y1="311.90" x2="398.90" y2="311.90" stroke="#e31b23" stroke-width="3.3" stroke-linecap="butt"/>
<line x1="48.00" y1="412.70" x2="48.00" y2="528.30" stroke="#000" stroke-width="2.2" stroke-linecap="butt"/>
<line x1="43.90" y1="413.60" x2="48.00" y2="413.60" stroke="#000" stroke-width="1.9" stroke-linecap="butt"/>
<text x="42.0" y="417.20000000000005" font-size="10" text-anchor="end" fill="#111">60</text>
<line x1="43.90" y1="432.55" x2="48.00" y2="432.55" stroke="#000" stroke-width="1.9" stroke-linecap="butt"/>
<text x="42.0" y="436.15000000000003" font-size="10" text-anchor="end" fill="#111">50</text>
<line x1="43.90" y1="451.50" x2="48.00" y2="451.50" stroke="#000" stroke-width="1.9" stroke-linecap="butt"/>
<text x="42.0" y="455.1" font-size="10" text-anchor="end" fill="#111">40</text>
<line x1="43.90" y1="470.45" x2="48.00" y2="470.45" stroke="#000" stroke-width="1.9" stroke-linecap="butt"/>
<text x="42.0" y="474.05" font-size="10" text-anchor="end" fill="#111">30</text>
<line x1="43.90" y1="489.40" x2="48.00" y2="489.40" stroke="#000" stroke-width="1.9" stroke-linecap="butt"/>
<text x="42.0" y="493.0" font-size="10" text-anchor="end" fill="#111">20</text>
<line x1="43.90" y1="508.35" x2="48.00" y2="508.35" stroke="#000" stroke-width="1.9" stroke-linecap="butt"/>
<text x="42.0" y="511.95" font-size="10" text-anchor="end" fill="#111">10</text>
<line x1="43.90" y1="527.30" x2="48.00" y2="527.30" stroke="#000" stroke-width="1.9" stroke-linecap="butt"/>
<text x="42.0" y="530.9" font-size="10" text-anchor="end" fill="#111">0</text>
<line x1="43.90" y1="527.30" x2="254.30" y2="527.30" stroke="#000" stroke-width="2.2" stroke-linecap="butt"/>
<line x1="56.60" y1="527.30" x2="56.60" y2="531.60" stroke="#000" stroke-width="2" stroke-linecap="butt"/>
<text x="56.6" y="540.5" font-size="10" text-anchor="middle" fill="#111">2</text>
<line x1="73.57" y1="527.30" x2="73.57" y2="531.60" stroke="#000" stroke-width="2" stroke-linecap="butt"/>
<text x="73.57" y="540.5" font-size="10" text-anchor="middle" fill="#111">4</text>
<line x1="90.54" y1="527.30" x2="90.54" y2="531.60" stroke="#000" stroke-width="2" stroke-linecap="butt"/>
<text x="90.53999999999999" y="540.5" font-size="10" text-anchor="middle" fill="#111">6</text>
<line x1="107.51" y1="527.30" x2="107.51" y2="531.60" stroke="#000" stroke-width="2" stroke-linecap="butt"/>
<text x="107.50999999999999" y="540.5" font-size="10" text-anchor="middle" fill="#111">8</text>
<line x1="124.48" y1="527.30" x2="124.48" y2="531.60" stroke="#000" stroke-width="2" stroke-linecap="butt"/>
<text x="124.47999999999999" y="540.5" font-size="10" text-anchor="middle" fill="#111">10</text>
<line x1="141.45" y1="527.30" x2="141.45" y2="531.60" stroke="#000" stroke-width="2" stroke-linecap="butt"/>
<text x="141.45" y="540.5" font-size="10" text-anchor="middle" fill="#111">12</text>
<line x1="158.42" y1="527.30" x2="158.42" y2="531.60" stroke="#000" stroke-width="2" stroke-linecap="butt"/>
<text x="158.42" y="540.5" font-size="10" text-anchor="middle" fill="#111">14</text>
<line x1="175.39" y1="527.30" x2="175.39" y2="531.60" stroke="#000" stroke-width="2" stroke-linecap="butt"/>
<text x="175.39" y="540.5" font-size="10" text-anchor="middle" fill="#111">16</text>
<line x1="192.36" y1="527.30" x2="192.36" y2="531.60" stroke="#000" stroke-width="2" stroke-linecap="butt"/>
<text x="192.35999999999999" y="540.5" font-size="10" text-anchor="middle" fill="#111">18</text>
<line x1="209.33" y1="527.30" x2="209.33" y2="531.60" stroke="#000" stroke-width="2" stroke-linecap="butt"/>
<text x="209.32999999999998" y="540.5" font-size="10" text-anchor="middle" fill="#111">20</text>
<line x1="226.30" y1="527.30" x2="226.30" y2="531.60" stroke="#000" stroke-width="2" stroke-linecap="butt"/>
<text x="226.29999999999998" y="540.5" font-size="10" text-anchor="middle" fill="#111">22</text>
<line x1="243.27" y1="527.30" x2="243.27" y2="531.60" stroke="#000" stroke-width="2" stroke-linecap="butt"/>
<text x="243.26999999999998" y="540.5" font-size="10" text-anchor="middle" fill="#111">24</text>
<rect x="67.37" y="480.00" width="7.20" height="47.30" fill="#000"/>
<rect x="74.97" y="492.30" width="5.70" height="35.20" fill="#fff" stroke="#000" stroke-width="1.6"/>
<rect x="84.34" y="503.50" width="7.20" height="23.80" fill="#000"/>
<rect x="91.94" y="505.20" width="5.70" height="22.30" fill="#fff" stroke="#000" stroke-width="1.6"/>
<rect x="101.31" y="512.80" width="7.20" height="14.50" fill="#000"/>
<rect x="108.91" y="514.60" width="5.70" height="12.90" fill="#fff" stroke="#000" stroke-width="1.6"/>
<rect x="118.28" y="520.00" width="7.20" height="7.30" fill="#000"/>
<rect x="125.88" y="519.70" width="5.70" height="7.80" fill="#fff" stroke="#000" stroke-width="1.6"/>
<rect x="135.25" y="523.80" width="7.20" height="3.50" fill="#000"/>
<rect x="142.85" y="521.60" width="5.70" height="5.90" fill="#fff" stroke="#000" stroke-width="1.6"/>
<rect x="152.22" y="525.40" width="7.20" height="1.90" fill="#000"/>
<rect x="159.82" y="523.10" width="5.70" height="4.40" fill="#fff" stroke="#000" stroke-width="1.6"/>
<rect x="169.19" y="525.00" width="7.20" height="2.30" fill="#000"/>
<rect x="49.70" y="431.90" width="7.80" height="95.60" fill="#fff" stroke="#000" stroke-width="1.6"/>
<line x1="49.80" y1="432.00" x2="49.80" y2="527.00" stroke="#888" stroke-width="1.5" stroke-linecap="butt"/>
<rect x="50.60" y="439.80" width="7.00" height="87.50" fill="#000"/>
<rect x="58.00" y="431.00" width="5.20" height="96.50" fill="#fff" stroke="#000" stroke-width="1.6"/>
<path d="M52.9 416.1 L52.9 431.7 M49.4 428.3 L52.9 432.3 L56.4 428.3" fill="none" stroke="#2b2d8c" stroke-width="2.2" stroke-linejoin="miter"/>
<path d="M60.4 413.3 L60.4 428.2 M56.0 424.2 L60.4 428.8 L64.6 424.2" fill="none" stroke="#8a8a8a" stroke-width="2.2" stroke-linejoin="miter"/>
<text x="45.9" y="396.9" font-size="14.5" textLength="207.4" lengthAdjust="spacingAndGlyphs" fill="#111">Instantaneous velocity at 2 hr</text>
<rect x="135.80" y="421.60" width="17.30" height="7.00" fill="#000"/>
<rect x="136.60" y="435.80" width="15.70" height="5.40" fill="#fff" stroke="#000" stroke-width="1.6"/>
<text x="157.0" y="428.8" font-size="11.2" textLength="81.2" lengthAdjust="spacingAndGlyphs" fill="#111">B6 to DTR-GFP</text>
<text x="157.0" y="442.0" font-size="11.2" textLength="78.3" lengthAdjust="spacingAndGlyphs" fill="#111">BALB/c to YFP</text>
<text transform="translate(21.1 465.4) rotate(-90)" x="0" y="0" font-size="12.3" text-anchor="middle" textLength="74.8" lengthAdjust="spacingAndGlyphs" fill="#111">Percentages</text>
<text x="100.2" y="554.7" font-size="13" textLength="100.3" lengthAdjust="spacingAndGlyphs" fill="#111">Velocity (µm/min)</text>
<line x1="301.40" y1="412.60" x2="301.40" y2="528.40" stroke="#000" stroke-width="2.2" stroke-linecap="butt"/>
<line x1="297.00" y1="413.80" x2="301.40" y2="413.80" stroke="#000" stroke-width="1.9" stroke-linecap="butt"/>
<text x="295.6" y="417.40000000000003" font-size="10" text-anchor="end" fill="#111">60</text>
<line x1="297.00" y1="432.73" x2="301.40" y2="432.73" stroke="#000" stroke-width="1.9" stroke-linecap="butt"/>
<text x="295.6" y="436.33333333333337" font-size="10" text-anchor="end" fill="#111">50</text>
<line x1="297.00" y1="451.67" x2="301.40" y2="451.67" stroke="#000" stroke-width="1.9" stroke-linecap="butt"/>
<text x="295.6" y="455.2666666666667" font-size="10" text-anchor="end" fill="#111">40</text>
<line x1="297.00" y1="470.60" x2="301.40" y2="470.60" stroke="#000" stroke-width="1.9" stroke-linecap="butt"/>
<text x="295.6" y="474.20000000000005" font-size="10" text-anchor="end" fill="#111">30</text>
<line x1="297.00" y1="489.53" x2="301.40" y2="489.53" stroke="#000" stroke-width="1.9" stroke-linecap="butt"/>
<text x="295.6" y="493.1333333333333" font-size="10" text-anchor="end" fill="#111">20</text>
<line x1="297.00" y1="508.47" x2="301.40" y2="508.47" stroke="#000" stroke-width="1.9" stroke-linecap="butt"/>
<text x="295.6" y="512.0666666666666" font-size="10" text-anchor="end" fill="#111">10</text>
<line x1="297.00" y1="527.40" x2="301.40" y2="527.40" stroke="#000" stroke-width="1.9" stroke-linecap="butt"/>
<text x="295.6" y="531.0" font-size="10" text-anchor="end" fill="#111">0</text>
<line x1="297.00" y1="527.40" x2="507.40" y2="527.40" stroke="#000" stroke-width="2.2" stroke-linecap="butt"/>
<line x1="309.70" y1="527.40" x2="309.70" y2="531.70" stroke="#000" stroke-width="2" stroke-linecap="butt"/>
<text x="309.7" y="540.6" font-size="10" text-anchor="middle" fill="#111">2</text>
<line x1="326.68" y1="527.40" x2="326.68" y2="531.70" stroke="#000" stroke-width="2" stroke-linecap="butt"/>
<text x="326.68" y="540.6" font-size="10" text-anchor="middle" fill="#111">4</text>
<line x1="343.66" y1="527.40" x2="343.66" y2="531.70" stroke="#000" stroke-width="2" stroke-linecap="butt"/>
<text x="343.65999999999997" y="540.6" font-size="10" text-anchor="middle" fill="#111">6</text>
<line x1="360.64" y1="527.40" x2="360.64" y2="531.70" stroke="#000" stroke-width="2" stroke-linecap="butt"/>
<text x="360.64" y="540.6" font-size="10" text-anchor="middle" fill="#111">8</text>
<line x1="377.62" y1="527.40" x2="377.62" y2="531.70" stroke="#000" stroke-width="2" stroke-linecap="butt"/>
<text x="377.62" y="540.6" font-size="10" text-anchor="middle" fill="#111">10</text>
<line x1="394.60" y1="527.40" x2="394.60" y2="531.70" stroke="#000" stroke-width="2" stroke-linecap="butt"/>
<text x="394.6" y="539.6999999999999" font-size="8" text-anchor="middle" fill="#111">12</text>
<line x1="411.58" y1="527.40" x2="411.58" y2="531.70" stroke="#000" stroke-width="2" stroke-linecap="butt"/>
<text x="411.58" y="540.6" font-size="10" text-anchor="middle" fill="#111">14</text>
<line x1="428.56" y1="527.40" x2="428.56" y2="531.70" stroke="#000" stroke-width="2" stroke-linecap="butt"/>
<text x="428.56" y="540.6" font-size="10" text-anchor="middle" fill="#111">16</text>
<line x1="445.54" y1="527.40" x2="445.54" y2="531.70" stroke="#000" stroke-width="2" stroke-linecap="butt"/>
<text x="445.53999999999996" y="540.6" font-size="10" text-anchor="middle" fill="#111">18</text>
<line x1="462.52" y1="527.40" x2="462.52" y2="531.70" stroke="#000" stroke-width="2" stroke-linecap="butt"/>
<text x="462.52" y="539.6999999999999" font-size="8" text-anchor="middle" fill="#111">20</text>
<line x1="479.50" y1="527.40" x2="479.50" y2="531.70" stroke="#000" stroke-width="2" stroke-linecap="butt"/>
<text x="479.5" y="540.6" font-size="10" text-anchor="middle" fill="#111">22</text>
<line x1="496.48" y1="527.40" x2="496.48" y2="531.70" stroke="#000" stroke-width="2" stroke-linecap="butt"/>
<text x="496.48" y="540.6" font-size="10" text-anchor="middle" fill="#111">24</text>
<rect x="320.48" y="493.50" width="7.00" height="33.90" fill="#000"/>
<rect x="327.88" y="499.60" width="5.80" height="28.00" fill="#fff" stroke="#000" stroke-width="1.6"/>
<rect x="337.46" y="516.60" width="7.00" height="10.80" fill="#000"/>
<rect x="344.86" y="511.60" width="5.80" height="16.00" fill="#fff" stroke="#000" stroke-width="1.6"/>
<rect x="354.44" y="521.90" width="7.00" height="5.50" fill="#000"/>
<rect x="361.84" y="515.80" width="5.80" height="11.80" fill="#fff" stroke="#000" stroke-width="1.6"/>
<rect x="371.42" y="524.20" width="7.00" height="3.20" fill="#000"/>
<rect x="378.82" y="519.00" width="5.80" height="8.60" fill="#fff" stroke="#000" stroke-width="1.6"/>
<rect x="388.40" y="525.10" width="7.00" height="2.30" fill="#000"/>
<rect x="395.80" y="522.00" width="5.80" height="5.60" fill="#fff" stroke="#000" stroke-width="1.6"/>
<rect x="405.38" y="526.00" width="7.00" height="1.40" fill="#000"/>
<rect x="412.78" y="524.10" width="5.80" height="3.50" fill="#fff" stroke="#000" stroke-width="1.6"/>
<rect x="422.36" y="525.10" width="7.00" height="2.30" fill="#000"/>
<line x1="303.30" y1="414.50" x2="303.30" y2="527.00" stroke="#888" stroke-width="1.3" stroke-linecap="butt"/>
<rect x="303.90" y="414.20" width="6.60" height="113.20" fill="#000"/>
<rect x="311.00" y="417.40" width="5.80" height="110.20" fill="#fff" stroke="#000" stroke-width="1.6"/>
<path d="M306.2 394.2 L306.2 410.2 M301.2 406.2 L306.2 410.8 L311.0 406.2" fill="none" stroke="#2b2d8c" stroke-width="2.2" stroke-linejoin="miter"/>
<path d="M313.8 398.2 L313.8 413.59999999999997 M309.8 409.2 L313.8 414.2 L317.9 409.2" fill="none" stroke="#8a8a8a" stroke-width="2.2" stroke-linejoin="miter"/>
<text x="311.8" y="396.6" font-size="14.5" textLength="206.5" lengthAdjust="spacingAndGlyphs" fill="#111">Instantaneous velocity at 8 hr</text>
<rect x="396.50" y="424.30" width="17.70" height="6.90" fill="#000"/>
<rect x="397.30" y="438.50" width="16.10" height="5.30" fill="#fff" stroke="#000" stroke-width="1.6"/>
<text x="418.6" y="431.2" font-size="11.2" textLength="82.8" lengthAdjust="spacingAndGlyphs" fill="#111">B6 to DTR-GFP</text>
<text x="418.6" y="444.6" font-size="11.2" textLength="79.5" lengthAdjust="spacingAndGlyphs" fill="#111">BALB/c to YFP</text>
<text transform="translate(273.0 463.9) rotate(-90)" x="0" y="0" font-size="12.3" text-anchor="middle" textLength="75.6" lengthAdjust="spacingAndGlyphs" fill="#111">Percentages</text>
<text x="357.0" y="555.2" font-size="13" textLength="101.3" lengthAdjust="spacingAndGlyphs" fill="#111">Velocity (µm/min)</text>
<line x1="38.20" y1="608.80" x2="38.20" y2="708.00" stroke="#000" stroke-width="2.4" stroke-linecap="butt"/>
<line x1="34.80" y1="609.30" x2="38.20" y2="609.30" stroke="#000" stroke-width="1.9" stroke-linecap="butt"/>
<text x="33.6" y="612.9" font-size="10" text-anchor="end" fill="#111">20</text>
<line x1="34.80" y1="633.77" x2="38.20" y2="633.77" stroke="#000" stroke-width="1.9" stroke-linecap="butt"/>
<text x="33.6" y="637.375" font-size="10" text-anchor="end" fill="#111">15</text>
<line x1="34.80" y1="658.25" x2="38.20" y2="658.25" stroke="#000" stroke-width="1.9" stroke-linecap="butt"/>
<text x="33.6" y="661.85" font-size="10" text-anchor="end" fill="#111">10</text>
<line x1="34.80" y1="682.73" x2="38.20" y2="682.73" stroke="#000" stroke-width="1.9" stroke-linecap="butt"/>
<text x="33.6" y="686.325" font-size="10" text-anchor="end" fill="#111">5</text>
<line x1="34.80" y1="707.20" x2="38.20" y2="707.20" stroke="#000" stroke-width="1.9" stroke-linecap="butt"/>
<text x="33.6" y="710.8000000000001" font-size="10" text-anchor="end" fill="#111">0</text>
<line x1="34.80" y1="707.20" x2="188.50" y2="707.20" stroke="#000" stroke-width="2.3" stroke-linecap="butt"/>
<line x1="54.20" y1="707.20" x2="54.20" y2="711.60" stroke="#000" stroke-width="2" stroke-linecap="butt"/>
<line x1="83.80" y1="707.20" x2="83.80" y2="711.60" stroke="#000" stroke-width="2" stroke-linecap="butt"/>
<line x1="113.10" y1="707.20" x2="113.10" y2="711.60" stroke="#000" stroke-width="2" stroke-linecap="butt"/>
<line x1="142.80" y1="707.20" x2="142.80" y2="711.60" stroke="#000" stroke-width="2" stroke-linecap="butt"/>
<line x1="172.30" y1="707.20" x2="172.30" y2="711.60" stroke="#000" stroke-width="2" stroke-linecap="butt"/>
<text x="53.9" y="722.0" font-size="10" text-anchor="middle" fill="#111">2hr</text>
<text x="83.5" y="722.0" font-size="10" text-anchor="middle" fill="#111">3hr</text>
<text x="111.3" y="722.0" font-size="10" text-anchor="middle" fill="#111">5hr</text>
<text x="142.3" y="722.0" font-size="10" text-anchor="middle" fill="#111">8hr</text>
<text x="158.3" y="721.6" font-size="10" textLength="24.6" lengthAdjust="spacingAndGlyphs" fill="#111">B6 to</text>
<text x="158.3" y="734.6" font-size="10" textLength="38.6" lengthAdjust="spacingAndGlyphs" fill="#111">DTR 8hr</text>
<text x="61.8" y="746.2" font-size="12.6" textLength="117.6" lengthAdjust="spacingAndGlyphs" fill="#111">Time after transplant</text>
<text x="69.8" y="582.3" font-size="13.6" textLength="90" lengthAdjust="spacingAndGlyphs" fill="#111">Mean velocity</text>
<text x="77.4" y="598.5" font-size="13.6" textLength="77" lengthAdjust="spacingAndGlyphs" fill="#111">in YFP mice</text>
<text transform="translate(17.6 657.6) rotate(-90)" x="0" y="0" font-size="11.7" text-anchor="middle" textLength="38.6" lengthAdjust="spacingAndGlyphs" fill="#111">µm/min</text>
<circle cx="54.70" cy="633.20" r="1.7" fill="#fff" stroke="#000" stroke-width="1.3"/>
<circle cx="60.70" cy="641.80" r="1.7" fill="#fff" stroke="#000" stroke-width="1.3"/>
<circle cx="54.70" cy="645.70" r="1.7" fill="#fff" stroke="#000" stroke-width="1.3"/>
<circle cx="48.80" cy="651.30" r="1.7" fill="#fff" stroke="#000" stroke-width="1.3"/>
<circle cx="48.80" cy="655.60" r="1.7" fill="#fff" stroke="#000" stroke-width="1.3"/>
<circle cx="54.70" cy="655.80" r="1.7" fill="#fff" stroke="#000" stroke-width="1.3"/>
<circle cx="60.70" cy="653.90" r="1.7" fill="#fff" stroke="#000" stroke-width="1.3"/>
<circle cx="54.70" cy="659.00" r="1.7" fill="#fff" stroke="#000" stroke-width="1.3"/>
<circle cx="48.80" cy="661.50" r="1.7" fill="#fff" stroke="#000" stroke-width="1.3"/>
<circle cx="51.80" cy="661.00" r="1.7" fill="#fff" stroke="#000" stroke-width="1.3"/>
<circle cx="54.70" cy="662.50" r="1.7" fill="#fff" stroke="#000" stroke-width="1.3"/>
<circle cx="57.70" cy="661.80" r="1.7" fill="#fff" stroke="#000" stroke-width="1.3"/>
<circle cx="60.70" cy="662.00" r="1.7" fill="#fff" stroke="#000" stroke-width="1.3"/>
<circle cx="60.70" cy="666.70" r="1.7" fill="#fff" stroke="#000" stroke-width="1.3"/>
<circle cx="48.80" cy="668.00" r="1.7" fill="#fff" stroke="#000" stroke-width="1.3"/>
<circle cx="48.80" cy="671.00" r="1.7" fill="#fff" stroke="#000" stroke-width="1.3"/>
<circle cx="51.80" cy="671.40" r="1.7" fill="#fff" stroke="#000" stroke-width="1.3"/>
<circle cx="54.70" cy="670.00" r="1.7" fill="#fff" stroke="#000" stroke-width="1.3"/>
<circle cx="57.70" cy="671.40" r="1.7" fill="#fff" stroke="#000" stroke-width="1.3"/>
<circle cx="48.80" cy="674.20" r="1.7" fill="#fff" stroke="#000" stroke-width="1.3"/>
<circle cx="60.70" cy="674.80" r="1.7" fill="#fff" stroke="#000" stroke-width="1.3"/>
<circle cx="54.70" cy="676.00" r="1.7" fill="#fff" stroke="#000" stroke-width="1.3"/>
<circle cx="60.70" cy="679.40" r="1.7" fill="#fff" stroke="#000" stroke-width="1.3"/>
<circle cx="48.80" cy="679.40" r="1.7" fill="#fff" stroke="#000" stroke-width="1.3"/>
<circle cx="48.90" cy="681.40" r="1.7" fill="#fff" stroke="#000" stroke-width="1.3"/>
<circle cx="54.70" cy="682.80" r="1.7" fill="#fff" stroke="#000" stroke-width="1.3"/>
<circle cx="57.70" cy="674.50" r="1.7" fill="#fff" stroke="#000" stroke-width="1.3"/>
<circle cx="48.28" cy="687.68" r="1.7" fill="#fff" stroke="#000" stroke-width="1.3"/>
<circle cx="54.54" cy="686.97" r="1.7" fill="#fff" stroke="#000" stroke-width="1.3"/>
<circle cx="57.14" cy="687.42" r="1.7" fill="#fff" stroke="#000" stroke-width="1.3"/>
<circle cx="52.89" cy="690.25" r="1.7" fill="#fff" stroke="#000" stroke-width="1.3"/>
<circle cx="55.65" cy="691.24" r="1.7" fill="#fff" stroke="#000" stroke-width="1.3"/>
<circle cx="58.38" cy="691.27" r="1.7" fill="#fff" stroke="#000" stroke-width="1.3"/>
<circle cx="48.45" cy="693.47" r="1.7" fill="#fff" stroke="#000" stroke-width="1.3"/>
<circle cx="51.47" cy="694.28" r="1.7" fill="#fff" stroke="#000" stroke-width="1.3"/>
<circle cx="54.80" cy="694.07" r="1.7" fill="#fff" stroke="#000" stroke-width="1.3"/>
<circle cx="57.76" cy="693.38" r="1.7" fill="#fff" stroke="#000" stroke-width="1.3"/>
<circle cx="48.92" cy="697.01" r="1.7" fill="#fff" stroke="#000" stroke-width="1.3"/>
<circle cx="52.60" cy="697.04" r="1.7" fill="#fff" stroke="#000" stroke-width="1.3"/>
<circle cx="55.85" cy="697.34" r="1.7" fill="#fff" stroke="#000" stroke-width="1.3"/>
<circle cx="58.59" cy="697.13" r="1.7" fill="#fff" stroke="#000" stroke-width="1.3"/>
<circle cx="60.98" cy="696.85" r="1.7" fill="#fff" stroke="#000" stroke-width="1.3"/>
<circle cx="48.24" cy="700.20" r="1.7" fill="#fff" stroke="#000" stroke-width="1.3"/>
<circle cx="51.28" cy="700.29" r="1.7" fill="#fff" stroke="#000" stroke-width="1.3"/>
<circle cx="58.02" cy="700.39" r="1.7" fill="#fff" stroke="#000" stroke-width="1.3"/>
<circle cx="60.48" cy="700.53" r="1.7" fill="#fff" stroke="#000" stroke-width="1.3"/>
<circle cx="48.80" cy="703.45" r="1.7" fill="#fff" stroke="#000" stroke-width="1.3"/>
<circle cx="53.03" cy="703.47" r="1.7" fill="#fff" stroke="#000" stroke-width="1.3"/>
<circle cx="54.97" cy="703.74" r="1.7" fill="#fff" stroke="#000" stroke-width="1.3"/>
<circle cx="59.09" cy="703.89" r="1.7" fill="#fff" stroke="#000" stroke-width="1.3"/>
<circle cx="60.56" cy="703.70" r="1.7" fill="#fff" stroke="#000" stroke-width="1.3"/>
<circle cx="84.60" cy="622.00" r="1.7" fill="#fff" stroke="#000" stroke-width="1.3"/>
<circle cx="84.60" cy="631.50" r="1.7" fill="#fff" stroke="#000" stroke-width="1.3"/>
<circle cx="78.50" cy="637.50" r="1.7" fill="#fff" stroke="#000" stroke-width="1.3"/>
<circle cx="87.80" cy="637.00" r="1.7" fill="#fff" stroke="#000" stroke-width="1.3"/>
<circle cx="90.50" cy="639.50" r="1.7" fill="#fff" stroke="#000" stroke-width="1.3"/>
<circle cx="78.50" cy="640.50" r="1.7" fill="#fff" stroke="#000" stroke-width="1.3"/>
<circle cx="84.60" cy="641.20" r="1.7" fill="#fff" stroke="#000" stroke-width="1.3"/>
<circle cx="87.80" cy="640.50" r="1.7" fill="#fff" stroke="#000" stroke-width="1.3"/>
<circle cx="81.00" cy="644.04" r="1.7" fill="#fff" stroke="#000" stroke-width="1.3"/>
<circle cx="87.36" cy="644.20" r="1.7" fill="#fff" stroke="#000" stroke-width="1.3"/>
<circle cx="91.55" cy="644.00" r="1.7" fill="#fff" stroke="#000" stroke-width="1.3"/>
<circle cx="78.16" cy="648.16" r="1.7" fill="#fff" stroke="#000" stroke-width="1.3"/>
<circle cx="82.64" cy="647.43" r="1.7" fill="#fff" stroke="#000" stroke-width="1.3"/>
<circle cx="85.23" cy="648.16" r="1.7" fill="#fff" stroke="#000" stroke-width="1.3"/>
<circle cx="88.18" cy="647.31" r="1.7" fill="#fff" stroke="#000" stroke-width="1.3"/>
<circle cx="90.78" cy="647.68" r="1.7" fill="#fff" stroke="#000" stroke-width="1.3"/>
<circle cx="77.82" cy="650.30" r="1.7" fill="#fff" stroke="#000" stroke-width="1.3"/>
<circle cx="81.24" cy="650.98" r="1.7" fill="#fff" stroke="#000" stroke-width="1.3"/>
<circle cx="84.83" cy="650.92" r="1.7" fill="#fff" stroke="#000" stroke-width="1.3"/>
<circle cx="88.01" cy="650.36" r="1.7" fill="#fff" stroke="#000" stroke-width="1.3"/>
<circle cx="91.44" cy="651.35" r="1.7" fill="#fff" stroke="#000" stroke-width="1.3"/>
<circle cx="77.97" cy="653.98" r="1.7" fill="#fff" stroke="#000" stroke-width="1.3"/>
<circle cx="84.87" cy="653.58" r="1.7" fill="#fff" stroke="#000" stroke-width="1.3"/>
<circle cx="88.19" cy="653.91" r="1.7" fill="#fff" stroke="#000" stroke-width="1.3"/>
<circle cx="87.23" cy="657.75" r="1.7" fill="#fff" stroke="#000" stroke-width="1.3"/>
<circle cx="90.68" cy="657.00" r="1.7" fill="#fff" stroke="#000" stroke-width="1.3"/>
<circle cx="77.94" cy="660.05" r="1.7" fill="#fff" stroke="#000" stroke-width="1.3"/>
<circle cx="82.79" cy="660.46" r="1.7" fill="#fff" stroke="#000" stroke-width="1.3"/>
<circle cx="84.90" cy="660.02" r="1.7" fill="#fff" stroke="#000" stroke-width="1.3"/>
<circle cx="88.32" cy="660.89" r="1.7" fill="#fff" stroke="#000" stroke-width="1.3"/>
<circle cx="81.43" cy="663.28" r="1.7" fill="#fff" stroke="#000" stroke-width="1.3"/>
<circle cx="84.03" cy="663.73" r="1.7" fill="#fff" stroke="#000" stroke-width="1.3"/>
<circle cx="88.24" cy="663.94" r="1.7" fill="#fff" stroke="#000" stroke-width="1.3"/>
<circle cx="90.94" cy="663.30" r="1.7" fill="#fff" stroke="#000" stroke-width="1.3"/>
<circle cx="78.14" cy="667.23" r="1.7" fill="#fff" stroke="#000" stroke-width="1.3"/>
<circle cx="81.87" cy="667.27" r="1.7" fill="#fff" stroke="#000" stroke-width="1.3"/>
<circle cx="85.82" cy="667.27" r="1.7" fill="#fff" stroke="#000" stroke-width="1.3"/>
<circle cx="88.89" cy="666.57" r="1.7" fill="#fff" stroke="#000" stroke-width="1.3"/>
<circle cx="90.93" cy="666.33" r="1.7" fill="#fff" stroke="#000" stroke-width="1.3"/>
<circle cx="81.11" cy="670.33" r="1.7" fill="#fff" stroke="#000" stroke-width="1.3"/>
<circle cx="84.54" cy="670.62" r="1.7" fill="#fff" stroke="#000" stroke-width="1.3"/>
<circle cx="88.35" cy="669.94" r="1.7" fill="#fff" stroke="#000" stroke-width="1.3"/>
<circle cx="90.77" cy="669.74" r="1.7" fill="#fff" stroke="#000" stroke-width="1.3"/>
<circle cx="78.25" cy="673.78" r="1.7" fill="#fff" stroke="#000" stroke-width="1.3"/>
<circle cx="82.18" cy="673.48" r="1.7" fill="#fff" stroke="#000" stroke-width="1.3"/>
<circle cx="84.90" cy="673.49" r="1.7" fill="#fff" stroke="#000" stroke-width="1.3"/>
<circle cx="88.94" cy="673.60" r="1.7" fill="#fff" stroke="#000" stroke-width="1.3"/>
<circle cx="90.71" cy="673.65" r="1.7" fill="#fff" stroke="#000" stroke-width="1.3"/>
<circle cx="78.46" cy="677.07" r="1.7" fill="#fff" stroke="#000" stroke-width="1.3"/>
<circle cx="81.28" cy="677.04" r="1.7" fill="#fff" stroke="#000" stroke-width="1.3"/>
<circle cx="84.20" cy="676.05" r="1.7" fill="#fff" stroke="#000" stroke-width="1.3"/>
<circle cx="91.47" cy="676.08" r="1.7" fill="#fff" stroke="#000" stroke-width="1.3"/>
<circle cx="78.68" cy="679.89" r="1.7" fill="#fff" stroke="#000" stroke-width="1.3"/>
<circle cx="82.26" cy="679.26" r="1.7" fill="#fff" stroke="#000" stroke-width="1.3"/>
<circle cx="88.78" cy="679.73" r="1.7" fill="#fff" stroke="#000" stroke-width="1.3"/>
<circle cx="91.02" cy="680.15" r="1.7" fill="#fff" stroke="#000" stroke-width="1.3"/>
<circle cx="77.75" cy="682.60" r="1.7" fill="#fff" stroke="#000" stroke-width="1.3"/>
<circle cx="81.09" cy="683.00" r="1.7" fill="#fff" stroke="#000" stroke-width="1.3"/>
<circle cx="84.50" cy="682.46" r="1.7" fill="#fff" stroke="#000" stroke-width="1.3"/>
<circle cx="87.62" cy="682.85" r="1.7" fill="#fff" stroke="#000" stroke-width="1.3"/>
<circle cx="91.59" cy="682.80" r="1.7" fill="#fff" stroke="#000" stroke-width="1.3"/>
<circle cx="78.10" cy="686.14" r="1.7" fill="#fff" stroke="#000" stroke-width="1.3"/>
<circle cx="81.62" cy="686.03" r="1.7" fill="#fff" stroke="#000" stroke-width="1.3"/>
<circle cx="84.80" cy="686.46" r="1.7" fill="#fff" stroke="#000" stroke-width="1.3"/>
<circle cx="91.37" cy="686.17" r="1.7" fill="#fff" stroke="#000" stroke-width="1.3"/>
<circle cx="78.12" cy="689.37" r="1.7" fill="#fff" stroke="#000" stroke-width="1.3"/>
<circle cx="80.93" cy="689.37" r="1.7" fill="#fff" stroke="#000" stroke-width="1.3"/>
<circle cx="84.33" cy="689.63" r="1.7" fill="#fff" stroke="#000" stroke-width="1.3"/>
<circle cx="87.87" cy="689.61" r="1.7" fill="#fff" stroke="#000" stroke-width="1.3"/>
<circle cx="91.03" cy="689.44" r="1.7" fill="#fff" stroke="#000" stroke-width="1.3"/>
<circle cx="78.11" cy="692.73" r="1.7" fill="#fff" stroke="#000" stroke-width="1.3"/>
<circle cx="82.24" cy="692.47" r="1.7" fill="#fff" stroke="#000" stroke-width="1.3"/>
<circle cx="85.64" cy="692.95" r="1.7" fill="#fff" stroke="#000" stroke-width="1.3"/>
<circle cx="88.31" cy="692.57" r="1.7" fill="#fff" stroke="#000" stroke-width="1.3"/>
<circle cx="91.51" cy="692.06" r="1.7" fill="#fff" stroke="#000" stroke-width="1.3"/>
<circle cx="80.89" cy="695.39" r="1.7" fill="#fff" stroke="#000" stroke-width="1.3"/>
<circle cx="88.14" cy="696.18" r="1.7" fill="#fff" stroke="#000" stroke-width="1.3"/>
<circle cx="78.29" cy="698.47" r="1.7" fill="#fff" stroke="#000" stroke-width="1.3"/>
<circle cx="82.76" cy="698.56" r="1.7" fill="#fff" stroke="#000" stroke-width="1.3"/>
<circle cx="85.28" cy="698.88" r="1.7" fill="#fff" stroke="#000" stroke-width="1.3"/>
<circle cx="89.00" cy="698.49" r="1.7" fill="#fff" stroke="#000" stroke-width="1.3"/>
<circle cx="91.12" cy="698.71" r="1.7" fill="#fff" stroke="#000" stroke-width="1.3"/>
<circle cx="77.88" cy="702.37" r="1.7" fill="#fff" stroke="#000" stroke-width="1.3"/>
<circle cx="84.53" cy="701.52" r="1.7" fill="#fff" stroke="#000" stroke-width="1.3"/>
<circle cx="87.95" cy="702.11" r="1.7" fill="#fff" stroke="#000" stroke-width="1.3"/>
<circle cx="108.20" cy="628.20" r="1.7" fill="#fff" stroke="#000" stroke-width="1.3"/>
<circle cx="114.20" cy="633.20" r="1.7" fill="#fff" stroke="#000" stroke-width="1.3"/>
<circle cx="114.20" cy="640.60" r="1.7" fill="#fff" stroke="#000" stroke-width="1.3"/>
<circle cx="108.20" cy="645.20" r="1.7" fill="#fff" stroke="#000" stroke-width="1.3"/>
<circle cx="108.20" cy="648.80" r="1.7" fill="#fff" stroke="#000" stroke-width="1.3"/>
<circle cx="114.20" cy="647.00" r="1.7" fill="#fff" stroke="#000" stroke-width="1.3"/>
<circle cx="120.20" cy="648.80" r="1.7" fill="#fff" stroke="#000" stroke-width="1.3"/>
<circle cx="108.05" cy="654.17" r="1.7" fill="#fff" stroke="#000" stroke-width="1.3"/>
<circle cx="113.65" cy="653.93" r="1.7" fill="#fff" stroke="#000" stroke-width="1.3"/>
<circle cx="116.96" cy="653.51" r="1.7" fill="#fff" stroke="#000" stroke-width="1.3"/>
<circle cx="121.08" cy="653.31" r="1.7" fill="#fff" stroke="#000" stroke-width="1.3"/>
<circle cx="111.88" cy="657.04" r="1.7" fill="#fff" stroke="#000" stroke-width="1.3"/>
<circle cx="120.61" cy="656.29" r="1.7" fill="#fff" stroke="#000" stroke-width="1.3"/>
<circle cx="107.86" cy="660.36" r="1.7" fill="#fff" stroke="#000" stroke-width="1.3"/>
<circle cx="113.68" cy="660.44" r="1.7" fill="#fff" stroke="#000" stroke-width="1.3"/>
<circle cx="117.21" cy="660.06" r="1.7" fill="#fff" stroke="#000" stroke-width="1.3"/>
<circle cx="120.42" cy="659.56" r="1.7" fill="#fff" stroke="#000" stroke-width="1.3"/>
<circle cx="107.39" cy="662.73" r="1.7" fill="#fff" stroke="#000" stroke-width="1.3"/>
<circle cx="120.47" cy="663.51" r="1.7" fill="#fff" stroke="#000" stroke-width="1.3"/>
<circle cx="107.70" cy="666.01" r="1.7" fill="#fff" stroke="#000" stroke-width="1.3"/>
<circle cx="110.42" cy="666.10" r="1.7" fill="#fff" stroke="#000" stroke-width="1.3"/>
<circle cx="117.46" cy="666.03" r="1.7" fill="#fff" stroke="#000" stroke-width="1.3"/>
<circle cx="121.22" cy="665.93" r="1.7" fill="#fff" stroke="#000" stroke-width="1.3"/>
<circle cx="107.62" cy="669.59" r="1.7" fill="#fff" stroke="#000" stroke-width="1.3"/>
<circle cx="111.67" cy="669.61" r="1.7" fill="#fff" stroke="#000" stroke-width="1.3"/>
<circle cx="115.58" cy="669.41" r="1.7" fill="#fff" stroke="#000" stroke-width="1.3"/>
<circle cx="118.45" cy="669.76" r="1.7" fill="#fff" stroke="#000" stroke-width="1.3"/>
<circle cx="120.52" cy="669.07" r="1.7" fill="#fff" stroke="#000" stroke-width="1.3"/>
<circle cx="113.91" cy="672.40" r="1.7" fill="#fff" stroke="#000" stroke-width="1.3"/>
<circle cx="121.14" cy="673.00" r="1.7" fill="#fff" stroke="#000" stroke-width="1.3"/>
<circle cx="107.39" cy="675.75" r="1.7" fill="#fff" stroke="#000" stroke-width="1.3"/>
<circle cx="111.39" cy="675.93" r="1.7" fill="#fff" stroke="#000" stroke-width="1.3"/>
<circle cx="115.55" cy="676.57" r="1.7" fill="#fff" stroke="#000" stroke-width="1.3"/>
<circle cx="117.89" cy="676.56" r="1.7" fill="#fff" stroke="#000" stroke-width="1.3"/>
<circle cx="120.53" cy="675.40" r="1.7" fill="#fff" stroke="#000" stroke-width="1.3"/>
<circle cx="107.67" cy="679.20" r="1.7" fill="#fff" stroke="#000" stroke-width="1.3"/>
<circle cx="113.61" cy="678.92" r="1.7" fill="#fff" stroke="#000" stroke-width="1.3"/>
<circle cx="120.15" cy="678.63" r="1.7" fill="#fff" stroke="#000" stroke-width="1.3"/>
<circle cx="107.38" cy="682.50" r="1.7" fill="#fff" stroke="#000" stroke-width="1.3"/>
<circle cx="112.10" cy="682.59" r="1.7" fill="#fff" stroke="#000" stroke-width="1.3"/>
<circle cx="115.45" cy="682.27" r="1.7" fill="#fff" stroke="#000" stroke-width="1.3"/>
<circle cx="118.78" cy="681.98" r="1.7" fill="#fff" stroke="#000" stroke-width="1.3"/>
<circle cx="120.87" cy="681.85" r="1.7" fill="#fff" stroke="#000" stroke-width="1.3"/>
<circle cx="108.17" cy="685.75" r="1.7" fill="#fff" stroke="#000" stroke-width="1.3"/>
<circle cx="111.37" cy="685.17" r="1.7" fill="#fff" stroke="#000" stroke-width="1.3"/>
<circle cx="114.21" cy="686.00" r="1.7" fill="#fff" stroke="#000" stroke-width="1.3"/>
<circle cx="117.79" cy="685.70" r="1.7" fill="#fff" stroke="#000" stroke-width="1.3"/>
<circle cx="120.92" cy="685.83" r="1.7" fill="#fff" stroke="#000" stroke-width="1.3"/>
<circle cx="117.73" cy="689.20" r="1.7" fill="#fff" stroke="#000" stroke-width="1.3"/>
<circle cx="120.85" cy="688.95" r="1.7" fill="#fff" stroke="#000" stroke-width="1.3"/>
<circle cx="107.69" cy="691.40" r="1.7" fill="#fff" stroke="#000" stroke-width="1.3"/>
<circle cx="111.30" cy="692.00" r="1.7" fill="#fff" stroke="#000" stroke-width="1.3"/>
<circle cx="114.39" cy="691.48" r="1.7" fill="#fff" stroke="#000" stroke-width="1.3"/>
<circle cx="117.10" cy="691.49" r="1.7" fill="#fff" stroke="#000" stroke-width="1.3"/>
<circle cx="120.98" cy="691.65" r="1.7" fill="#fff" stroke="#000" stroke-width="1.3"/>
<circle cx="108.27" cy="695.19" r="1.7" fill="#fff" stroke="#000" stroke-width="1.3"/>
<circle cx="111.77" cy="695.42" r="1.7" fill="#fff" stroke="#000" stroke-width="1.3"/>
<circle cx="115.14" cy="695.37" r="1.7" fill="#fff" stroke="#000" stroke-width="1.3"/>
<circle cx="107.99" cy="698.17" r="1.7" fill="#fff" stroke="#000" stroke-width="1.3"/>
<circle cx="110.41" cy="697.87" r="1.7" fill="#fff" stroke="#000" stroke-width="1.3"/>
<circle cx="114.41" cy="698.63" r="1.7" fill="#fff" stroke="#000" stroke-width="1.3"/>
<circle cx="117.15" cy="698.42" r="1.7" fill="#fff" stroke="#000" stroke-width="1.3"/>
<circle cx="120.66" cy="697.94" r="1.7" fill="#fff" stroke="#000" stroke-width="1.3"/>
<circle cx="107.34" cy="702.17" r="1.7" fill="#fff" stroke="#000" stroke-width="1.3"/>
<circle cx="111.22" cy="701.55" r="1.7" fill="#fff" stroke="#000" stroke-width="1.3"/>
<circle cx="115.56" cy="701.54" r="1.7" fill="#fff" stroke="#000" stroke-width="1.3"/>
<circle cx="117.85" cy="702.13" r="1.7" fill="#fff" stroke="#000" stroke-width="1.3"/>
<circle cx="143.60" cy="642.80" r="1.7" fill="#fff" stroke="#000" stroke-width="1.3"/>
<circle cx="143.60" cy="662.70" r="1.7" fill="#fff" stroke="#000" stroke-width="1.3"/>
<circle cx="141.00" cy="665.60" r="1.7" fill="#fff" stroke="#000" stroke-width="1.3"/>
<circle cx="146.70" cy="666.40" r="1.7" fill="#fff" stroke="#000" stroke-width="1.3"/>
<circle cx="137.80" cy="669.00" r="1.7" fill="#fff" stroke="#000" stroke-width="1.3"/>
<circle cx="137.80" cy="669.80" r="1.7" fill="#fff" stroke="#000" stroke-width="1.3"/>
<circle cx="143.80" cy="670.20" r="1.7" fill="#fff" stroke="#000" stroke-width="1.3"/>
<circle cx="149.80" cy="669.40" r="1.7" fill="#fff" stroke="#000" stroke-width="1.3"/>
<circle cx="146.70" cy="673.60" r="1.7" fill="#fff" stroke="#000" stroke-width="1.3"/>
<circle cx="137.80" cy="676.50" r="1.7" fill="#fff" stroke="#000" stroke-width="1.3"/>
<circle cx="143.60" cy="679.80" r="1.7" fill="#fff" stroke="#000" stroke-width="1.3"/>
<circle cx="149.80" cy="679.80" r="1.7" fill="#fff" stroke="#000" stroke-width="1.3"/>
<circle cx="137.80" cy="684.60" r="1.7" fill="#fff" stroke="#000" stroke-width="1.3"/>
<circle cx="137.80" cy="685.30" r="1.7" fill="#fff" stroke="#000" stroke-width="1.3"/>
<circle cx="149.80" cy="684.60" r="1.7" fill="#fff" stroke="#000" stroke-width="1.3"/>
<circle cx="143.60" cy="686.30" r="1.7" fill="#fff" stroke="#000" stroke-width="1.3"/>
<circle cx="137.80" cy="692.70" r="1.7" fill="#fff" stroke="#000" stroke-width="1.3"/>
<circle cx="140.70" cy="693.80" r="1.7" fill="#fff" stroke="#000" stroke-width="1.3"/>
<circle cx="143.60" cy="692.70" r="1.7" fill="#fff" stroke="#000" stroke-width="1.3"/>
<circle cx="146.70" cy="692.70" r="1.7" fill="#fff" stroke="#000" stroke-width="1.3"/>
<circle cx="149.80" cy="693.30" r="1.7" fill="#fff" stroke="#000" stroke-width="1.3"/>
<circle cx="137.80" cy="698.50" r="1.7" fill="#fff" stroke="#000" stroke-width="1.3"/>
<circle cx="140.70" cy="699.00" r="1.7" fill="#fff" stroke="#000" stroke-width="1.3"/>
<circle cx="143.60" cy="699.00" r="1.7" fill="#fff" stroke="#000" stroke-width="1.3"/>
<circle cx="146.70" cy="697.20" r="1.7" fill="#fff" stroke="#000" stroke-width="1.3"/>
<circle cx="149.80" cy="699.00" r="1.7" fill="#fff" stroke="#000" stroke-width="1.3"/>
<circle cx="137.80" cy="702.00" r="1.7" fill="#fff" stroke="#000" stroke-width="1.3"/>
<circle cx="140.70" cy="702.20" r="1.7" fill="#fff" stroke="#000" stroke-width="1.3"/>
<circle cx="146.70" cy="701.00" r="1.7" fill="#fff" stroke="#000" stroke-width="1.3"/>
<circle cx="149.80" cy="703.60" r="1.7" fill="#fff" stroke="#000" stroke-width="1.3"/>
<circle cx="143.60" cy="706.00" r="1.7" fill="#fff" stroke="#000" stroke-width="1.3"/>
<circle cx="167.10" cy="658.40" r="1.7" fill="#fff" stroke="#000" stroke-width="1.3"/>
<circle cx="179.00" cy="658.40" r="1.7" fill="#fff" stroke="#000" stroke-width="1.3"/>
<circle cx="173.30" cy="661.30" r="1.7" fill="#fff" stroke="#000" stroke-width="1.3"/>
<circle cx="179.00" cy="664.40" r="1.7" fill="#fff" stroke="#000" stroke-width="1.3"/>
<circle cx="173.30" cy="670.20" r="1.7" fill="#fff" stroke="#000" stroke-width="1.3"/>
<circle cx="167.10" cy="675.60" r="1.7" fill="#fff" stroke="#000" stroke-width="1.3"/>
<circle cx="167.10" cy="681.70" r="1.7" fill="#fff" stroke="#000" stroke-width="1.3"/>
<circle cx="173.30" cy="681.70" r="1.7" fill="#fff" stroke="#000" stroke-width="1.3"/>
<circle cx="179.30" cy="681.70" r="1.7" fill="#fff" stroke="#000" stroke-width="1.3"/>
<circle cx="167.10" cy="684.80" r="1.7" fill="#fff" stroke="#000" stroke-width="1.3"/>
<circle cx="170.20" cy="684.80" r="1.7" fill="#fff" stroke="#000" stroke-width="1.3"/>
<circle cx="173.30" cy="684.80" r="1.7" fill="#fff" stroke="#000" stroke-width="1.3"/>
<circle cx="176.30" cy="684.80" r="1.7" fill="#fff" stroke="#000" stroke-width="1.3"/>
<circle cx="179.30" cy="684.80" r="1.7" fill="#fff" stroke="#000" stroke-width="1.3"/>
<circle cx="173.30" cy="688.00" r="1.7" fill="#fff" stroke="#000" stroke-width="1.3"/>
<circle cx="167.10" cy="691.00" r="1.7" fill="#fff" stroke="#000" stroke-width="1.3"/>
<circle cx="173.30" cy="691.00" r="1.7" fill="#fff" stroke="#000" stroke-width="1.3"/>
<circle cx="179.30" cy="691.00" r="1.7" fill="#fff" stroke="#000" stroke-width="1.3"/>
<circle cx="167.10" cy="696.10" r="1.7" fill="#fff" stroke="#000" stroke-width="1.3"/>
<circle cx="170.20" cy="696.10" r="1.7" fill="#fff" stroke="#000" stroke-width="1.3"/>
<circle cx="173.30" cy="696.10" r="1.7" fill="#fff" stroke="#000" stroke-width="1.3"/>
<circle cx="176.30" cy="696.10" r="1.7" fill="#fff" stroke="#000" stroke-width="1.3"/>
<circle cx="179.30" cy="696.10" r="1.7" fill="#fff" stroke="#000" stroke-width="1.3"/>
<circle cx="167.10" cy="699.60" r="1.7" fill="#fff" stroke="#000" stroke-width="1.3"/>
<circle cx="173.30" cy="699.60" r="1.7" fill="#fff" stroke="#000" stroke-width="1.3"/>
<circle cx="179.30" cy="699.60" r="1.7" fill="#fff" stroke="#000" stroke-width="1.3"/>
<circle cx="167.10" cy="703.00" r="1.7" fill="#fff" stroke="#000" stroke-width="1.3"/>
<circle cx="170.20" cy="703.00" r="1.7" fill="#fff" stroke="#000" stroke-width="1.3"/>
<circle cx="171.50" cy="703.00" r="1.7" fill="#fff" stroke="#000" stroke-width="1.3"/>
<circle cx="173.30" cy="703.00" r="1.7" fill="#fff" stroke="#000" stroke-width="1.3"/>
<circle cx="176.30" cy="703.00" r="1.7" fill="#fff" stroke="#000" stroke-width="1.3"/>
<circle cx="179.30" cy="703.00" r="1.7" fill="#fff" stroke="#000" stroke-width="1.3"/>
<circle cx="167.10" cy="705.60" r="1.7" fill="#fff" stroke="#000" stroke-width="1.3"/>
<circle cx="173.30" cy="705.60" r="1.7" fill="#fff" stroke="#000" stroke-width="1.3"/>
<circle cx="179.30" cy="705.60" r="1.7" fill="#fff" stroke="#000" stroke-width="1.3"/>
<circle cx="48.80" cy="679.40" r="1.7" fill="#000" stroke="#000" stroke-width="1.3"/>
<circle cx="137.80" cy="669.20" r="1.7" fill="#000" stroke="#000" stroke-width="1.3"/>
<circle cx="137.80" cy="684.80" r="1.7" fill="#000" stroke="#000" stroke-width="1.3"/>
<circle cx="171.50" cy="703.00" r="1.7" fill="#000" stroke="#000" stroke-width="1.3"/>
<circle cx="173.30" cy="703.00" r="1.7" fill="#000" stroke="#000" stroke-width="1.3"/>
<circle cx="108.00" cy="703.50" r="1.7" fill="#000" stroke="#000" stroke-width="1.3"/>
<circle cx="111.00" cy="704.50" r="1.7" fill="#000" stroke="#000" stroke-width="1.3"/>
<circle cx="114.00" cy="703.50" r="1.7" fill="#000" stroke="#000" stroke-width="1.3"/>
<circle cx="117.00" cy="704.50" r="1.7" fill="#000" stroke="#000" stroke-width="1.3"/>
<circle cx="120.00" cy="703.50" r="1.7" fill="#000" stroke="#000" stroke-width="1.3"/>
<circle cx="110.50" cy="700.50" r="1.7" fill="#000" stroke="#000" stroke-width="1.3"/>
<circle cx="116.50" cy="700.50" r="1.7" fill="#000" stroke="#000" stroke-width="1.3"/>
<circle cx="46.50" cy="704.00" r="1.7" fill="#000" stroke="#000" stroke-width="1.3"/>
<circle cx="52.00" cy="703.50" r="1.7" fill="#000" stroke="#000" stroke-width="1.3"/>
<line x1="42.50" y1="686.30" x2="65.60" y2="686.30" stroke="#e31b23" stroke-width="3.3" stroke-linecap="butt"/>
<line x1="72.30" y1="679.80" x2="95.40" y2="679.80" stroke="#e31b23" stroke-width="3.3" stroke-linecap="butt"/>
<line x1="103.00" y1="683.10" x2="125.20" y2="683.10" stroke="#e31b23" stroke-width="3.3" stroke-linecap="butt"/>
<line x1="131.70" y1="689.30" x2="154.20" y2="689.30" stroke="#e31b23" stroke-width="3.3" stroke-linecap="butt"/>
<line x1="161.20" y1="693.30" x2="183.70" y2="693.30" stroke="#e31b23" stroke-width="3.3" stroke-linecap="butt"/>
<line x1="236.80" y1="599.60" x2="236.80" y2="708.00" stroke="#000" stroke-width="2.4" stroke-linecap="butt"/>
<line x1="232.40" y1="605.50" x2="236.80" y2="605.50" stroke="#000" stroke-width="1.9" stroke-linecap="butt"/>
<text x="231.9" y="609.1" font-size="10" text-anchor="end" fill="#111">30</text>
<line x1="232.40" y1="622.40" x2="236.80" y2="622.40" stroke="#000" stroke-width="1.9" stroke-linecap="butt"/>
<text x="231.9" y="626.0" font-size="10" text-anchor="end" fill="#111">25</text>
<line x1="232.40" y1="639.30" x2="236.80" y2="639.30" stroke="#000" stroke-width="1.9" stroke-linecap="butt"/>
<text x="231.9" y="642.9" font-size="10" text-anchor="end" fill="#111">20</text>
<line x1="232.40" y1="656.20" x2="236.80" y2="656.20" stroke="#000" stroke-width="1.9" stroke-linecap="butt"/>
<text x="231.9" y="659.8000000000001" font-size="10" text-anchor="end" fill="#111">15</text>
<line x1="232.40" y1="673.10" x2="236.80" y2="673.10" stroke="#000" stroke-width="1.9" stroke-linecap="butt"/>
<text x="231.9" y="676.7" font-size="10" text-anchor="end" fill="#111">10</text>
<line x1="232.40" y1="690.00" x2="236.80" y2="690.00" stroke="#000" stroke-width="1.9" stroke-linecap="butt"/>
<text x="231.9" y="693.6" font-size="10" text-anchor="end" fill="#111">5</text>
<line x1="232.40" y1="706.90" x2="236.80" y2="706.90" stroke="#000" stroke-width="1.9" stroke-linecap="butt"/>
<text x="231.9" y="710.5" font-size="10" text-anchor="end" fill="#111">0</text>
<line x1="232.00" y1="706.90" x2="397.00" y2="706.90" stroke="#000" stroke-width="2.3" stroke-linecap="butt"/>
<line x1="251.20" y1="706.90" x2="251.20" y2="712.50" stroke="#000" stroke-width="2" stroke-linecap="butt"/>
<line x1="282.90" y1="706.90" x2="282.90" y2="712.50" stroke="#000" stroke-width="2" stroke-linecap="butt"/>
<line x1="316.50" y1="706.90" x2="316.50" y2="712.50" stroke="#000" stroke-width="2" stroke-linecap="butt"/>
<line x1="350.00" y1="706.90" x2="350.00" y2="712.50" stroke="#000" stroke-width="2" stroke-linecap="butt"/>
<line x1="383.40" y1="706.90" x2="383.40" y2="712.50" stroke="#000" stroke-width="2" stroke-linecap="butt"/>
<text x="250.2" y="722.3" font-size="10" text-anchor="middle" fill="#111">2hr</text>
<text x="283.7" y="722.3" font-size="10" text-anchor="middle" fill="#111">3hr</text>
<text x="317.2" y="722.3" font-size="10" text-anchor="middle" fill="#111">5hr</text>
<text x="350.8" y="722.3" font-size="10" text-anchor="middle" fill="#111">8hr</text>
<text x="371.8" y="723.8" font-size="10" textLength="24.6" lengthAdjust="spacingAndGlyphs" fill="#111">B6 to</text>
<text x="371.8" y="736.9" font-size="10" textLength="39" lengthAdjust="spacingAndGlyphs" fill="#111">DTR 8hr</text>
<text x="259.0" y="744.5" font-size="12.6" textLength="112.5" lengthAdjust="spacingAndGlyphs" fill="#111">Time after transplant</text>
<text x="232.0" y="588.0" font-size="14.2" textLength="162" lengthAdjust="spacingAndGlyphs" fill="#111">Contact time in YFP mice</text>
<text transform="translate(213.0 650.3) rotate(-90)" x="0" y="0" font-size="12.5" text-anchor="middle" textLength="45.5" lengthAdjust="spacingAndGlyphs" fill="#111">Minutes</text>
<circle cx="245.20" cy="603.10" r="2.2" fill="#000"/>
<circle cx="247.29" cy="603.10" r="2.2" fill="#000"/>
<circle cx="249.38" cy="603.10" r="2.2" fill="#000"/>
<circle cx="251.46" cy="603.10" r="2.2" fill="#000"/>
<circle cx="253.55" cy="603.10" r="2.2" fill="#000"/>
<circle cx="255.64" cy="603.10" r="2.2" fill="#000"/>
<circle cx="257.72" cy="603.10" r="2.2" fill="#000"/>
<circle cx="259.81" cy="603.10" r="2.2" fill="#000"/>
<circle cx="261.90" cy="603.10" r="2.2" fill="#000"/>
<circle cx="252.90" cy="606.50" r="2.2" fill="#000"/>
<circle cx="252.90" cy="617.10" r="2.2" fill="#000"/>
<circle cx="252.90" cy="634.40" r="2.2" fill="#000"/>
<circle cx="259.60" cy="636.00" r="2.2" fill="#000"/>
<circle cx="252.90" cy="641.20" r="2.2" fill="#000"/>
<circle cx="246.20" cy="655.60" r="2.2" fill="#000"/>
<circle cx="252.90" cy="655.60" r="2.2" fill="#000"/>
<circle cx="252.30" cy="673.10" r="2.2" fill="#000"/>
<circle cx="249.30" cy="676.00" r="2.2" fill="#000"/>
<circle cx="255.90" cy="676.00" r="2.2" fill="#000"/>
<circle cx="246.30" cy="677.90" r="2.2" fill="#000"/>
<circle cx="259.50" cy="677.90" r="2.2" fill="#000"/>
<circle cx="252.50" cy="679.50" r="2.2" fill="#000"/>
<circle cx="245.00" cy="681.50" r="2.2" fill="#000"/>
<circle cx="249.00" cy="682.00" r="2.2" fill="#000"/>
<circle cx="256.00" cy="682.00" r="2.2" fill="#000"/>
<circle cx="261.00" cy="681.50" r="2.2" fill="#000"/>
<circle cx="252.50" cy="684.00" r="2.2" fill="#000"/>
<circle cx="244.54" cy="688.52" r="2.2" fill="#000"/>
<circle cx="247.83" cy="688.82" r="2.2" fill="#000"/>
<circle cx="251.89" cy="688.70" r="2.2" fill="#000"/>
<circle cx="255.20" cy="688.49" r="2.2" fill="#000"/>
<circle cx="249.80" cy="691.30" r="2.2" fill="#000"/>
<circle cx="256.27" cy="691.84" r="2.2" fill="#000"/>
<circle cx="245.24" cy="694.12" r="2.2" fill="#000"/>
<circle cx="248.41" cy="694.90" r="2.2" fill="#000"/>
<circle cx="251.37" cy="694.39" r="2.2" fill="#000"/>
<circle cx="254.89" cy="694.36" r="2.2" fill="#000"/>
<circle cx="257.88" cy="694.05" r="2.2" fill="#000"/>
<circle cx="249.64" cy="697.94" r="2.2" fill="#000"/>
<circle cx="252.92" cy="697.51" r="2.2" fill="#000"/>
<circle cx="260.21" cy="697.88" r="2.2" fill="#000"/>
<circle cx="245.03" cy="700.91" r="2.2" fill="#000"/>
<circle cx="248.25" cy="700.72" r="2.2" fill="#000"/>
<circle cx="254.75" cy="700.75" r="2.2" fill="#000"/>
<circle cx="257.89" cy="700.05" r="2.2" fill="#000"/>
<circle cx="246.18" cy="703.47" r="2.2" fill="#000"/>
<circle cx="249.65" cy="703.74" r="2.2" fill="#000"/>
<circle cx="252.91" cy="703.66" r="2.2" fill="#000"/>
<circle cx="256.51" cy="703.39" r="2.2" fill="#000"/>
<circle cx="276.00" cy="603.10" r="2.2" fill="#000"/>
<circle cx="278.02" cy="603.10" r="2.2" fill="#000"/>
<circle cx="280.04" cy="603.10" r="2.2" fill="#000"/>
<circle cx="282.07" cy="603.10" r="2.2" fill="#000"/>
<circle cx="284.09" cy="603.10" r="2.2" fill="#000"/>
<circle cx="286.11" cy="603.10" r="2.2" fill="#000"/>
<circle cx="288.13" cy="603.10" r="2.2" fill="#000"/>
<circle cx="290.16" cy="603.10" r="2.2" fill="#000"/>
<circle cx="292.18" cy="603.10" r="2.2" fill="#000"/>
<circle cx="294.20" cy="603.10" r="2.2" fill="#000"/>
<circle cx="284.60" cy="608.50" r="2.2" fill="#000"/>
<circle cx="284.60" cy="620.40" r="2.2" fill="#000"/>
<circle cx="284.60" cy="646.50" r="2.2" fill="#000"/>
<circle cx="291.30" cy="646.50" r="2.2" fill="#000"/>
<circle cx="284.60" cy="656.90" r="2.2" fill="#000"/>
<circle cx="284.60" cy="661.30" r="2.2" fill="#000"/>
<circle cx="285.40" cy="666.20" r="2.2" fill="#000"/>
<circle cx="285.40" cy="672.50" r="2.2" fill="#000"/>
<circle cx="291.00" cy="676.10" r="2.2" fill="#000"/>
<circle cx="276.70" cy="681.50" r="2.2" fill="#000"/>
<circle cx="284.60" cy="680.00" r="2.2" fill="#000"/>
<circle cx="292.80" cy="682.60" r="2.2" fill="#000"/>
<circle cx="275.81" cy="684.91" r="2.2" fill="#000"/>
<circle cx="279.12" cy="684.91" r="2.2" fill="#000"/>
<circle cx="282.65" cy="684.14" r="2.2" fill="#000"/>
<circle cx="285.59" cy="684.34" r="2.2" fill="#000"/>
<circle cx="292.36" cy="684.57" r="2.2" fill="#000"/>
<circle cx="278.00" cy="687.41" r="2.2" fill="#000"/>
<circle cx="281.07" cy="687.38" r="2.2" fill="#000"/>
<circle cx="283.91" cy="687.28" r="2.2" fill="#000"/>
<circle cx="287.28" cy="687.50" r="2.2" fill="#000"/>
<circle cx="291.31" cy="687.22" r="2.2" fill="#000"/>
<circle cx="275.85" cy="690.40" r="2.2" fill="#000"/>
<circle cx="279.85" cy="690.85" r="2.2" fill="#000"/>
<circle cx="282.22" cy="690.03" r="2.2" fill="#000"/>
<circle cx="286.40" cy="690.47" r="2.2" fill="#000"/>
<circle cx="288.80" cy="690.39" r="2.2" fill="#000"/>
<circle cx="292.93" cy="690.86" r="2.2" fill="#000"/>
<circle cx="277.50" cy="693.11" r="2.2" fill="#000"/>
<circle cx="284.53" cy="693.94" r="2.2" fill="#000"/>
<circle cx="287.80" cy="693.76" r="2.2" fill="#000"/>
<circle cx="291.00" cy="693.04" r="2.2" fill="#000"/>
<circle cx="275.83" cy="696.92" r="2.2" fill="#000"/>
<circle cx="279.20" cy="696.13" r="2.2" fill="#000"/>
<circle cx="282.84" cy="696.70" r="2.2" fill="#000"/>
<circle cx="292.68" cy="696.39" r="2.2" fill="#000"/>
<circle cx="277.85" cy="699.01" r="2.2" fill="#000"/>
<circle cx="281.01" cy="699.96" r="2.2" fill="#000"/>
<circle cx="284.73" cy="699.48" r="2.2" fill="#000"/>
<circle cx="287.40" cy="699.96" r="2.2" fill="#000"/>
<circle cx="290.76" cy="699.02" r="2.2" fill="#000"/>
<circle cx="276.27" cy="702.42" r="2.2" fill="#000"/>
<circle cx="279.57" cy="702.93" r="2.2" fill="#000"/>
<circle cx="282.23" cy="702.34" r="2.2" fill="#000"/>
<circle cx="286.18" cy="702.20" r="2.2" fill="#000"/>
<circle cx="289.54" cy="702.50" r="2.2" fill="#000"/>
<circle cx="293.07" cy="702.31" r="2.2" fill="#000"/>
<circle cx="277.48" cy="705.22" r="2.2" fill="#000"/>
<circle cx="280.84" cy="705.95" r="2.2" fill="#000"/>
<circle cx="284.04" cy="705.22" r="2.2" fill="#000"/>
<circle cx="287.82" cy="705.95" r="2.2" fill="#000"/>
<circle cx="307.30" cy="603.10" r="2.2" fill="#000"/>
<circle cx="309.27" cy="603.10" r="2.2" fill="#000"/>
<circle cx="311.24" cy="603.10" r="2.2" fill="#000"/>
<circle cx="313.21" cy="603.10" r="2.2" fill="#000"/>
<circle cx="315.18" cy="603.10" r="2.2" fill="#000"/>
<circle cx="317.15" cy="603.10" r="2.2" fill="#000"/>
<circle cx="319.12" cy="603.10" r="2.2" fill="#000"/>
<circle cx="321.09" cy="603.10" r="2.2" fill="#000"/>
<circle cx="323.06" cy="603.10" r="2.2" fill="#000"/>
<circle cx="325.03" cy="603.10" r="2.2" fill="#000"/>
<circle cx="327.00" cy="603.10" r="2.2" fill="#000"/>
<circle cx="310.80" cy="637.70" r="2.2" fill="#000"/>
<circle cx="317.30" cy="637.70" r="2.2" fill="#000"/>
<circle cx="323.50" cy="636.60" r="2.2" fill="#000"/>
<circle cx="317.30" cy="655.50" r="2.2" fill="#000"/>
<circle cx="317.30" cy="670.60" r="2.2" fill="#000"/>
<circle cx="323.50" cy="674.40" r="2.2" fill="#000"/>
<circle cx="309.20" cy="681.20" r="2.2" fill="#000"/>
<circle cx="317.30" cy="678.30" r="2.2" fill="#000"/>
<circle cx="325.00" cy="682.10" r="2.2" fill="#000"/>
<circle cx="313.00" cy="683.50" r="2.2" fill="#000"/>
<circle cx="321.00" cy="684.00" r="2.2" fill="#000"/>
<circle cx="308.51" cy="687.97" r="2.2" fill="#000"/>
<circle cx="322.40" cy="687.88" r="2.2" fill="#000"/>
<circle cx="325.80" cy="687.93" r="2.2" fill="#000"/>
<circle cx="310.14" cy="690.94" r="2.2" fill="#000"/>
<circle cx="313.28" cy="690.66" r="2.2" fill="#000"/>
<circle cx="316.92" cy="690.33" r="2.2" fill="#000"/>
<circle cx="319.85" cy="690.28" r="2.2" fill="#000"/>
<circle cx="324.11" cy="690.12" r="2.2" fill="#000"/>
<circle cx="308.51" cy="693.36" r="2.2" fill="#000"/>
<circle cx="312.42" cy="693.43" r="2.2" fill="#000"/>
<circle cx="318.57" cy="693.92" r="2.2" fill="#000"/>
<circle cx="321.86" cy="693.90" r="2.2" fill="#000"/>
<circle cx="310.76" cy="696.77" r="2.2" fill="#000"/>
<circle cx="323.41" cy="696.75" r="2.2" fill="#000"/>
<circle cx="308.64" cy="699.27" r="2.2" fill="#000"/>
<circle cx="312.22" cy="699.26" r="2.2" fill="#000"/>
<circle cx="315.22" cy="699.28" r="2.2" fill="#000"/>
<circle cx="322.42" cy="699.63" r="2.2" fill="#000"/>
<circle cx="324.82" cy="699.23" r="2.2" fill="#000"/>
<circle cx="310.91" cy="702.95" r="2.2" fill="#000"/>
<circle cx="313.50" cy="702.43" r="2.2" fill="#000"/>
<circle cx="317.48" cy="702.18" r="2.2" fill="#000"/>
<circle cx="320.59" cy="702.82" r="2.2" fill="#000"/>
<circle cx="323.76" cy="702.33" r="2.2" fill="#000"/>
<circle cx="308.66" cy="705.78" r="2.2" fill="#000"/>
<circle cx="315.65" cy="705.25" r="2.2" fill="#000"/>
<circle cx="325.13" cy="705.98" r="2.2" fill="#000"/>
<circle cx="339.70" cy="603.10" r="2.2" fill="#000"/>
<circle cx="341.61" cy="603.10" r="2.2" fill="#000"/>
<circle cx="343.52" cy="603.10" r="2.2" fill="#000"/>
<circle cx="345.43" cy="603.10" r="2.2" fill="#000"/>
<circle cx="347.34" cy="603.10" r="2.2" fill="#000"/>
<circle cx="349.25" cy="603.10" r="2.2" fill="#000"/>
<circle cx="351.16" cy="603.10" r="2.2" fill="#000"/>
<circle cx="353.07" cy="603.10" r="2.2" fill="#000"/>
<circle cx="354.98" cy="603.10" r="2.2" fill="#000"/>
<circle cx="356.89" cy="603.10" r="2.2" fill="#000"/>
<circle cx="358.80" cy="603.10" r="2.2" fill="#000"/>
<circle cx="348.90" cy="613.50" r="2.2" fill="#000"/>
<circle cx="348.90" cy="625.70" r="2.2" fill="#000"/>
<circle cx="349.00" cy="665.80" r="2.2" fill="#000"/>
<circle cx="355.80" cy="671.20" r="2.2" fill="#000"/>
<circle cx="349.00" cy="674.40" r="2.2" fill="#000"/>
<circle cx="341.50" cy="683.00" r="2.2" fill="#000"/>
<circle cx="349.00" cy="683.00" r="2.2" fill="#000"/>
<circle cx="355.50" cy="682.50" r="2.2" fill="#000"/>
<circle cx="345.00" cy="680.50" r="2.2" fill="#000"/>
<circle cx="341.39" cy="687.26" r="2.2" fill="#000"/>
<circle cx="351.01" cy="687.45" r="2.2" fill="#000"/>
<circle cx="342.67" cy="690.67" r="2.2" fill="#000"/>
<circle cx="346.20" cy="690.66" r="2.2" fill="#000"/>
<circle cx="352.24" cy="690.57" r="2.2" fill="#000"/>
<circle cx="355.99" cy="690.20" r="2.2" fill="#000"/>
<circle cx="350.88" cy="693.33" r="2.2" fill="#000"/>
<circle cx="354.59" cy="693.51" r="2.2" fill="#000"/>
<circle cx="346.00" cy="696.99" r="2.2" fill="#000"/>
<circle cx="352.77" cy="696.84" r="2.2" fill="#000"/>
<circle cx="355.29" cy="696.29" r="2.2" fill="#000"/>
<circle cx="347.58" cy="699.93" r="2.2" fill="#000"/>
<circle cx="351.17" cy="699.45" r="2.2" fill="#000"/>
<circle cx="343.00" cy="702.11" r="2.2" fill="#000"/>
<circle cx="345.97" cy="702.22" r="2.2" fill="#000"/>
<circle cx="348.79" cy="702.20" r="2.2" fill="#000"/>
<circle cx="355.90" cy="702.20" r="2.2" fill="#000"/>
<circle cx="344.38" cy="705.19" r="2.2" fill="#000"/>
<circle cx="347.20" cy="705.80" r="2.2" fill="#000"/>
<circle cx="350.36" cy="705.10" r="2.2" fill="#000"/>
<circle cx="354.15" cy="705.64" r="2.2" fill="#000"/>
<circle cx="370.80" cy="603.10" r="2.2" fill="#000"/>
<circle cx="372.84" cy="603.10" r="2.2" fill="#000"/>
<circle cx="374.88" cy="603.10" r="2.2" fill="#000"/>
<circle cx="376.92" cy="603.10" r="2.2" fill="#000"/>
<circle cx="378.96" cy="603.10" r="2.2" fill="#000"/>
<circle cx="381.00" cy="603.10" r="2.2" fill="#000"/>
<circle cx="383.04" cy="603.10" r="2.2" fill="#000"/>
<circle cx="385.08" cy="603.10" r="2.2" fill="#000"/>
<circle cx="387.12" cy="603.10" r="2.2" fill="#000"/>
<circle cx="389.16" cy="603.10" r="2.2" fill="#000"/>
<circle cx="391.20" cy="603.10" r="2.2" fill="#000"/>
<circle cx="374.60" cy="673.00" r="2.2" fill="#000"/>
<circle cx="387.50" cy="673.00" r="2.2" fill="#000"/>
<circle cx="380.80" cy="678.30" r="2.2" fill="#000"/>
<circle cx="374.60" cy="687.00" r="2.2" fill="#000"/>
<circle cx="380.80" cy="685.00" r="2.2" fill="#000"/>
<circle cx="387.50" cy="687.00" r="2.2" fill="#000"/>
<circle cx="374.60" cy="691.80" r="2.2" fill="#000"/>
<circle cx="382.50" cy="692.50" r="2.2" fill="#000"/>
<circle cx="387.50" cy="693.50" r="2.2" fill="#000"/>
<circle cx="374.60" cy="697.50" r="2.2" fill="#000"/>
<circle cx="385.50" cy="696.50" r="2.2" fill="#000"/>
<circle cx="374.60" cy="701.50" r="2.2" fill="#000"/>
<circle cx="380.80" cy="699.50" r="2.2" fill="#000"/>
<circle cx="387.50" cy="699.50" r="2.2" fill="#000"/>
<circle cx="377.00" cy="704.50" r="2.2" fill="#000"/>
<circle cx="383.00" cy="705.00" r="2.2" fill="#000"/>
<circle cx="387.50" cy="703.00" r="2.2" fill="#000"/>
<circle cx="371.50" cy="705.50" r="2.2" fill="#000"/>
<circle cx="390.00" cy="706.00" r="2.2" fill="#000"/>
<line x1="241.30" y1="686.30" x2="264.40" y2="686.30" stroke="#e31b23" stroke-width="3.3" stroke-linecap="butt"/>
<line x1="272.10" y1="689.60" x2="295.80" y2="689.60" stroke="#e31b23" stroke-width="3.3" stroke-linecap="butt"/>
<line x1="303.90" y1="686.20" x2="328.10" y2="686.20" stroke="#e31b23" stroke-width="3.3" stroke-linecap="butt"/>
<line x1="336.20" y1="686.20" x2="360.40" y2="686.20" stroke="#e31b23" stroke-width="3.3" stroke-linecap="butt"/>
<line x1="368.50" y1="682.80" x2="391.60" y2="682.80" stroke="#e31b23" stroke-width="3.3" stroke-linecap="butt"/>
</svg>
</body></html>
